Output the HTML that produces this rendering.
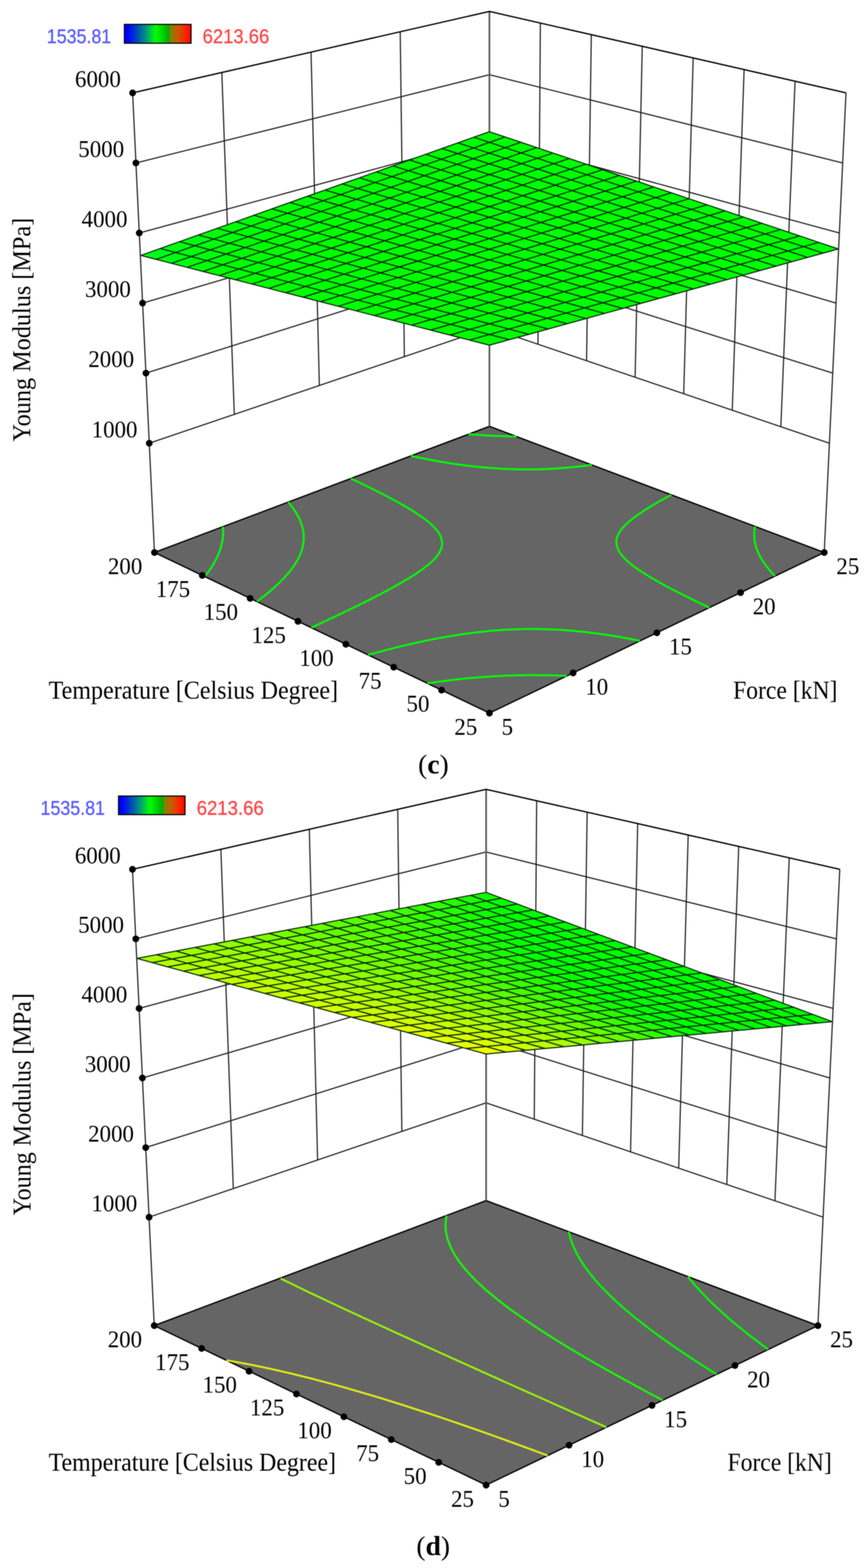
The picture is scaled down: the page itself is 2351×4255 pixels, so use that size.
<!DOCTYPE html>
<html lang="en"><head><meta charset="utf-8"><title>Young Modulus response surfaces (c), (d)</title>
<style>
html,body{margin:0;padding:0;background:#fff}
body{width:2351px;height:4255px}
svg{display:block;filter:blur(0.9px)}
text{white-space:pre}
.sans{font-family:"Liberation Sans",sans-serif;font-size:53px;stroke-width:0.8px}
</style></head><body>
<svg width="2351" height="4255" viewBox="0 0 2351 4255" font-family="'Liberation Serif', serif" fill="#000">
<defs><linearGradient id="cb" x1="0" x2="1" y1="0" y2="0"><stop offset="0" stop-color="#0000ff"/><stop offset="0.05" stop-color="#0000ff"/><stop offset="0.22" stop-color="#005aaa"/><stop offset="0.35" stop-color="#00aa6e"/><stop offset="0.47" stop-color="#00ff00"/><stop offset="0.6" stop-color="#00c800"/><stop offset="0.665" stop-color="#00aa00"/><stop offset="0.685" stop-color="#788700"/><stop offset="0.8" stop-color="#c85a00"/><stop offset="0.93" stop-color="#ff1e00"/><stop offset="1" stop-color="#ff0000"/></linearGradient></defs>
<rect width="2351" height="4255" fill="#fff"/>
<g id="plot-c">
<polygon points="419.3,1499.2 1328.7,1157 2237.6,1499.2 1328.7,1935" fill="#656565" stroke="#000" stroke-width="3.6" stroke-linejoin="miter"/>
<path d="M405.2,1202.8L1328.7,889.4 M1328.7,889.4L2251.6,1202.8 M396.2,1012.6L1328.7,717.7 M1328.7,717.7L2260.7,1012.6 M387.1,822.5L1328.7,546 M1328.7,546L2269.7,822.5 M378.1,632.3L1328.7,374.3 M1328.7,374.3L2278.7,632.3 M369,442.2L1328.7,202.7 M1328.7,202.7L2287.7,442.2 M602.2,196.8L636.1,1124.4 M844.4,141.5L867,1046.1 M1086.5,86.2L1097.8,967.7 M1467,62.6L1460.5,934.1 M1605.3,94.1L1592.4,978.9 M1743.6,125.7L1724.2,1023.7 M1881.8,157.3L1856.1,1068.4 M2020.1,188.9L1987.9,1113.2 M2158.4,220.4L2119.8,1158 M360,252L419.3,1499.2 M2296.7,252L2237.6,1499.2" fill="none" stroke="#1c1c1c" stroke-width="3.1"/>
<path d="M1328.7,31L1328.7,1157" fill="none" stroke="#595959" stroke-width="4.6"/>
<polyline points="360,252 1328.7,31 2296.7,252" fill="none" stroke="#000" stroke-width="3.6" stroke-linejoin="round"/>
<path d="M556.1,1564.4C557.9,1562 563.6,1554.7 567.1,1549.7C570.7,1544.7 574.1,1539.6 577.3,1534.3C580.5,1529.1 583.5,1523.7 586.3,1518.3C589.1,1512.8 591.7,1507.2 594,1501.5C596.2,1495.8 598.3,1490 600,1484.1C601.6,1478.2 603,1472.2 604,1466.1C605,1460.1 605.6,1453.9 605.8,1447.8C606.1,1441.7 605.4,1432.5 605.3,1429.4" fill="none" stroke="#00ff0c" stroke-width="5.2"/>
<path d="M697.7,1632.4C701.7,1629.3 713.6,1620.2 721.4,1613.9C729.1,1607.6 736.8,1601.2 744.2,1594.5C751.6,1587.8 758.9,1581 765.8,1573.8C772.8,1566.6 779.6,1559.2 785.8,1551.5C792,1543.7 798.1,1535.6 803.2,1527.1C808.4,1518.6 813.2,1509.6 816.7,1500.4C820.1,1491.1 822.9,1481.2 824,1471.4C825.1,1461.6 824.9,1451.3 823.4,1441.5C821.9,1431.7 818.7,1422 814.9,1412.8C811.2,1403.6 806.1,1394.9 800.7,1386.5C795.3,1378.1 785.7,1366.6 782.7,1362.6" fill="none" stroke="#00ff00" stroke-width="5.2"/>
<path d="M2103.8,1563.2C2101.7,1560.9 2095.2,1554 2091.1,1549.2C2087,1544.5 2083,1539.6 2079.3,1534.5C2075.5,1529.5 2071.9,1524.3 2068.6,1518.9C2065.3,1513.5 2062.2,1508 2059.6,1502.3C2056.9,1496.6 2054.6,1490.7 2052.7,1484.7C2050.9,1478.7 2049.4,1472.5 2048.6,1466.3C2047.7,1460 2047.4,1453.7 2047.6,1447.4C2047.8,1441.1 2049.6,1431.8 2050,1428.7" fill="none" stroke="#00ff00" stroke-width="5.2"/>
<path d="M845.4,1703.2C849.7,1701.2 862.7,1695.1 871.4,1691.1C880,1687 888.7,1683 897.3,1678.9C906,1674.8 914.6,1670.7 923.2,1666.6C931.9,1662.5 940.5,1658.4 949.1,1654.2C957.7,1650 966.3,1645.8 974.8,1641.6C983.4,1637.4 991.9,1633.1 1000.5,1628.8C1009,1624.5 1017.5,1620.2 1026,1615.8C1034.5,1611.4 1042.9,1606.9 1051.4,1602.4C1059.8,1597.9 1068.2,1593.3 1076.5,1588.6C1084.8,1583.9 1093.1,1579.2 1101.3,1574.3C1109.5,1569.4 1117.7,1564.4 1125.7,1559.2C1133.7,1553.9 1141.6,1548.6 1149.3,1542.9C1156.9,1537.1 1164.6,1531.3 1171.4,1524.7C1178.3,1518.1 1185.5,1511.3 1190.4,1503.3C1195.2,1495.3 1199.9,1485.7 1200.3,1476.8C1200.8,1467.8 1197.4,1457.7 1193.2,1449.4C1189,1441.2 1181.9,1434 1175.2,1427.2C1168.6,1420.5 1160.9,1414.6 1153.3,1408.8C1145.8,1403 1137.8,1397.6 1129.8,1392.4C1121.8,1387.2 1113.6,1382.2 1105.4,1377.3C1097.2,1372.4 1088.9,1367.7 1080.5,1363.1C1072.2,1358.5 1063.8,1353.9 1055.3,1349.5C1046.9,1345 1038.4,1340.6 1029.9,1336.3C1021.3,1332 1012.8,1327.7 1004.2,1323.5C995.7,1319.2 987.1,1315 978.5,1310.9C969.9,1306.7 956.9,1300.6 952.6,1298.5" fill="none" stroke="#00ff00" stroke-width="5.2"/>
<path d="M1925.3,1648.8C1920.9,1646.7 1907.9,1640.5 1899.2,1636.3C1890.5,1632.1 1881.8,1627.9 1873.2,1623.7C1864.5,1619.4 1855.9,1615.1 1847.3,1610.7C1838.7,1606.4 1830.1,1602 1821.5,1597.5C1813,1593 1804.5,1588.5 1796,1583.8C1787.6,1579.2 1779.2,1574.4 1770.9,1569.5C1762.6,1564.6 1754.3,1559.7 1746.2,1554.4C1738.1,1549.2 1730,1543.9 1722.3,1538.1C1714.6,1532.3 1706.8,1526.4 1700,1519.6C1693.2,1512.9 1685.9,1505.8 1681.4,1497.6C1676.9,1489.4 1672.9,1479.4 1673.1,1470.3C1673.2,1461.3 1677.6,1451.4 1682.2,1443.3C1686.9,1435.1 1694.2,1428.1 1701.1,1421.4C1707.9,1414.7 1715.7,1408.8 1723.4,1403C1731,1397.1 1739.1,1391.8 1747.1,1386.5C1755.2,1381.2 1763.4,1376.1 1771.7,1371.2C1780,1366.2 1788.3,1361.4 1796.8,1356.7C1805.2,1352 1817.9,1345.1 1822.1,1342.8" fill="none" stroke="#00ff00" stroke-width="5.2"/>
<path d="M999.5,1777.1C1004.1,1775.8 1017.9,1772 1027.2,1769.5C1036.4,1767 1045.7,1764.6 1055,1762.2C1064.3,1759.8 1073.5,1757.5 1082.8,1755.2C1092.1,1753 1101.5,1750.8 1110.8,1748.6C1120.1,1746.5 1129.5,1744.4 1138.8,1742.3C1148.2,1740.3 1157.6,1738.3 1166.9,1736.5C1176.3,1734.6 1185.7,1732.8 1195.2,1731C1204.6,1729.3 1214,1727.6 1223.4,1726C1232.9,1724.5 1242.3,1723 1251.8,1721.6C1261.3,1720.2 1270.8,1718.8 1280.3,1717.6C1289.8,1716.4 1299.3,1715.3 1308.8,1714.3C1318.3,1713.2 1327.8,1712.3 1337.4,1711.5C1346.9,1710.7 1356.5,1710 1366,1709.3C1375.6,1708.7 1385.2,1708.2 1394.7,1707.9C1404.3,1707.5 1413.9,1707.2 1423.4,1707C1433,1706.9 1442.6,1706.8 1452.2,1706.9C1461.7,1706.9 1471.3,1707.1 1480.9,1707.4C1490.4,1707.6 1500,1708 1509.6,1708.5C1519.1,1709 1528.7,1709.6 1538.2,1710.4C1547.8,1711.1 1557.3,1711.9 1566.9,1712.8C1576.4,1713.7 1585.9,1714.7 1595.4,1715.9C1604.9,1717 1614.4,1718.2 1623.9,1719.5C1633.4,1720.8 1642.9,1722.2 1652.3,1723.6C1661.8,1725.1 1671.3,1726.7 1680.7,1728.3C1690.1,1729.9 1699.5,1731.7 1708.9,1733.4C1718.4,1735.2 1732.4,1738.1 1737.1,1739" fill="none" stroke="#00ff00" stroke-width="5.2"/>
<path d="M1115.6,1237.1C1120.3,1238.1 1134.5,1241.1 1144,1243.1C1153.5,1245 1163,1246.8 1172.6,1248.6C1182.1,1250.4 1191.6,1252.1 1201.2,1253.7C1210.7,1255.3 1220.3,1256.8 1229.9,1258.3C1239.5,1259.7 1249.1,1261.1 1258.7,1262.3C1268.3,1263.6 1277.9,1264.8 1287.5,1265.8C1297.2,1266.9 1306.8,1267.9 1316.5,1268.7C1326.1,1269.6 1335.8,1270.4 1345.5,1271C1355.1,1271.7 1364.8,1272.2 1374.5,1272.7C1384.2,1273.1 1393.9,1273.4 1403.5,1273.6C1413.2,1273.8 1422.9,1273.9 1432.6,1273.9C1442.3,1273.9 1452,1273.8 1461.7,1273.5C1471.4,1273.3 1481.1,1272.9 1490.7,1272.4C1500.4,1271.9 1510.1,1271.3 1519.7,1270.6C1529.4,1269.9 1539.1,1269.1 1548.7,1268.2C1558.4,1267.3 1568,1266.3 1577.6,1265.2C1587.3,1264.1 1601.7,1262.1 1606.5,1261.5" fill="none" stroke="#00ff00" stroke-width="5.2"/>
<path d="M1160.4,1854.2C1165.2,1853.5 1179.7,1851.4 1189.3,1850.1C1198.9,1848.8 1208.6,1847.6 1218.2,1846.4C1227.9,1845.2 1237.5,1844.1 1247.2,1843.1C1256.9,1842 1266.6,1841 1276.3,1840.1C1285.9,1839.2 1295.6,1838.4 1305.3,1837.7C1315,1836.9 1324.7,1836.2 1334.4,1835.6C1344.1,1835 1353.9,1834.5 1363.6,1834C1373.3,1833.6 1383,1833.2 1392.7,1832.9C1402.4,1832.6 1412.2,1832.4 1421.9,1832.3C1431.6,1832.1 1441.3,1832 1451.1,1832.1C1460.8,1832.1 1470.5,1832.2 1480.2,1832.3C1490,1832.5 1499.7,1832.7 1509.4,1833C1519.1,1833.4 1533.7,1834 1538.6,1834.2" fill="none" stroke="#00ff00" stroke-width="5.2"/>
<path d="M1272,1178.2C1274.7,1178.4 1282.8,1179 1288.2,1179.4C1293.6,1179.8 1299,1180.2 1304.4,1180.6C1309.9,1180.9 1315.3,1181.3 1320.7,1181.6C1326.1,1181.9 1331.5,1182.2 1337,1182.4C1342.4,1182.7 1347.8,1182.9 1353.2,1183.2C1358.7,1183.4 1364.1,1183.6 1369.5,1183.7C1374.9,1183.9 1380.4,1184.1 1385.8,1184.2C1391.2,1184.3 1399.4,1184.4 1402.1,1184.5" fill="none" stroke="#00ff00" stroke-width="5.2"/>
<g stroke="#0b2b0b" stroke-width="3.0" stroke-linejoin="round">
<path d="M1286.2,372.4L1328.6,357.4L1371.1,371.6L1328.6,386.5Z" fill="#00ff00"/>
<path d="M1243.3,387.7L1286.2,372.4L1328.6,386.5L1285.7,401.6Z" fill="#00ff00"/>
<path d="M1328.6,386.5L1371.1,371.6L1414,386L1371.5,400.8Z" fill="#00ff00"/>
<path d="M1199.9,403L1243.3,387.7L1285.7,401.6L1242.3,416.8Z" fill="#00ff00"/>
<path d="M1285.7,401.6L1328.6,386.5L1371.5,400.8L1328.6,415.6Z" fill="#00ff00"/>
<path d="M1371.5,400.8L1414,386L1457.4,400.6L1414.9,415.1Z" fill="#00ff00"/>
<path d="M1156.1,418.6L1199.9,403L1242.3,416.8L1198.5,432.2Z" fill="#00ff00"/>
<path d="M1242.3,416.8L1285.7,401.6L1328.6,415.6L1285.2,430.7Z" fill="#00ff00"/>
<path d="M1328.6,415.6L1371.5,400.8L1414.9,415.1L1372,429.8Z" fill="#00ff00"/>
<path d="M1414.9,415.1L1457.4,400.6L1501.2,415.4L1458.8,429.7Z" fill="#00ff00"/>
<path d="M1111.7,434.3L1156.1,418.6L1198.5,432.2L1154.1,447.7Z" fill="#00ff00"/>
<path d="M1198.5,432.2L1242.3,416.8L1285.2,430.7L1241.4,445.9Z" fill="#00ff00"/>
<path d="M1285.2,430.7L1328.6,415.6L1372,429.8L1328.6,444.7Z" fill="#00ff00"/>
<path d="M1372,429.8L1414.9,415.1L1458.8,429.7L1415.9,444.2Z" fill="#00ff00"/>
<path d="M1458.8,429.7L1501.2,415.4L1545.6,430.2L1503.2,444.4Z" fill="#00ff00"/>
<path d="M1066.9,450.2L1111.7,434.3L1154.1,447.7L1109.3,463.4Z" fill="#00ff00"/>
<path d="M1154.1,447.7L1198.5,432.2L1241.4,445.9L1197,461.2Z" fill="#00ff00"/>
<path d="M1241.4,445.9L1285.2,430.7L1328.6,444.7L1284.7,459.7Z" fill="#00ff00"/>
<path d="M1328.6,444.7L1372,429.8L1415.9,444.2L1372.5,458.9Z" fill="#00ff00"/>
<path d="M1415.9,444.2L1458.8,429.7L1503.2,444.4L1460.3,458.8Z" fill="#00ff00"/>
<path d="M1503.2,444.4L1545.6,430.2L1590.4,445.3L1548,459.3Z" fill="#00ff00"/>
<path d="M1021.6,466.3L1066.9,450.2L1109.3,463.4L1063.9,479.3Z" fill="#00ff00"/>
<path d="M1109.3,463.4L1154.1,447.7L1197,461.2L1152.1,476.8Z" fill="#00ff00"/>
<path d="M1197,461.2L1241.4,445.9L1284.7,459.7L1240.4,474.9Z" fill="#00ff00"/>
<path d="M1284.7,459.7L1328.6,444.7L1372.5,458.9L1328.6,473.7Z" fill="#00ff00"/>
<path d="M1372.5,458.9L1415.9,444.2L1460.3,458.8L1416.9,473.3Z" fill="#00ff00"/>
<path d="M1460.3,458.8L1503.2,444.4L1548,459.3L1505.2,473.5Z" fill="#00ff00"/>
<path d="M1548,459.3L1590.4,445.3L1635.8,460.5L1593.4,474.4Z" fill="#00ff00"/>
<path d="M975.7,482.6L1021.6,466.3L1063.9,479.3L1018,495.4Z" fill="#00ff00"/>
<path d="M1063.9,479.3L1109.3,463.4L1152.1,476.8L1106.7,492.5Z" fill="#00ff00"/>
<path d="M1152.1,476.8L1197,461.2L1240.4,474.9L1195.5,490.3Z" fill="#00ff00"/>
<path d="M1240.4,474.9L1284.7,459.7L1328.6,473.7L1284.2,488.8Z" fill="#00ff00"/>
<path d="M1328.6,473.7L1372.5,458.9L1416.9,473.3L1373,487.9Z" fill="#00ff00"/>
<path d="M1416.9,473.3L1460.3,458.8L1505.2,473.5L1461.8,487.8Z" fill="#00ff00"/>
<path d="M1505.2,473.5L1548,459.3L1593.4,474.4L1550.6,488.3Z" fill="#00ff00"/>
<path d="M1593.4,474.4L1635.8,460.5L1681.7,476L1639.3,489.6Z" fill="#00ff00"/>
<path d="M929.3,499L975.7,482.6L1018,495.4L971.6,511.7Z" fill="#00ff00"/>
<path d="M1018,495.4L1063.9,479.3L1106.7,492.5L1060.8,508.4Z" fill="#00ff00"/>
<path d="M1106.7,492.5L1152.1,476.8L1195.5,490.3L1150.1,505.8Z" fill="#00ff00"/>
<path d="M1195.5,490.3L1240.4,474.9L1284.2,488.8L1239.3,504Z" fill="#00ff00"/>
<path d="M1284.2,488.8L1328.6,473.7L1373,487.9L1328.6,502.8Z" fill="#00ff00"/>
<path d="M1373,487.9L1416.9,473.3L1461.8,487.8L1417.9,502.3Z" fill="#00ff00"/>
<path d="M1461.8,487.8L1505.2,473.5L1550.6,488.3L1507.2,502.5Z" fill="#00ff00"/>
<path d="M1550.6,488.3L1593.4,474.4L1639.3,489.6L1596.5,503.4Z" fill="#00ff00"/>
<path d="M1639.3,489.6L1681.7,476L1728.1,491.5L1685.8,505Z" fill="#00ff00"/>
<path d="M882.4,515.7L929.3,499L971.6,511.7L924.7,528.2Z" fill="#00ff00"/>
<path d="M971.6,511.7L1018,495.4L1060.8,508.4L1014.4,524.5Z" fill="#00ff00"/>
<path d="M1060.8,508.4L1106.7,492.5L1150.1,505.8L1104.1,521.6Z" fill="#00ff00"/>
<path d="M1150.1,505.8L1195.5,490.3L1239.3,504L1193.9,519.3Z" fill="#00ff00"/>
<path d="M1239.3,504L1284.2,488.8L1328.6,502.8L1283.7,517.8Z" fill="#00ff00"/>
<path d="M1328.6,502.8L1373,487.9L1417.9,502.3L1373.5,516.9Z" fill="#00ff00"/>
<path d="M1417.9,502.3L1461.8,487.8L1507.2,502.5L1463.4,516.8Z" fill="#00ff00"/>
<path d="M1507.2,502.5L1550.6,488.3L1596.5,503.4L1553.2,517.4Z" fill="#00ff00"/>
<path d="M1596.5,503.4L1639.3,489.6L1685.8,505L1643,518.6Z" fill="#00ff00"/>
<path d="M1685.8,505L1728.1,491.5L1775,507.3L1732.7,520.6Z" fill="#00ff00"/>
<path d="M835,532.5L882.4,515.7L924.7,528.2L877.2,544.8Z" fill="#00ff00"/>
<path d="M924.7,528.2L971.6,511.7L1014.4,524.5L967.4,540.8Z" fill="#00ff00"/>
<path d="M1014.4,524.5L1060.8,508.4L1104.1,521.6L1057.7,537.5Z" fill="#00ff00"/>
<path d="M1104.1,521.6L1150.1,505.8L1193.9,519.3L1148,534.9Z" fill="#00ff00"/>
<path d="M1193.9,519.3L1239.3,504L1283.7,517.8L1238.3,533Z" fill="#00ff00"/>
<path d="M1283.7,517.8L1328.6,502.8L1373.5,516.9L1328.6,531.8Z" fill="#00ff00"/>
<path d="M1373.5,516.9L1417.9,502.3L1463.4,516.8L1419,531.3Z" fill="#00ff00"/>
<path d="M1463.4,516.8L1507.2,502.5L1553.2,517.4L1509.3,531.5Z" fill="#00ff00"/>
<path d="M1553.2,517.4L1596.5,503.4L1643,518.6L1599.7,532.4Z" fill="#00ff00"/>
<path d="M1643,518.6L1685.8,505L1732.7,520.6L1690,534Z" fill="#00ff00"/>
<path d="M1732.7,520.6L1775,507.3L1822.5,523.2L1780.3,536.3Z" fill="#00ff00"/>
<path d="M787,549.5L835,532.5L877.2,544.8L829.2,561.6Z" fill="#00ff00"/>
<path d="M877.2,544.8L924.7,528.2L967.4,540.8L919.9,557.3Z" fill="#00ff00"/>
<path d="M967.4,540.8L1014.4,524.5L1057.7,537.5L1010.7,553.6Z" fill="#00ff00"/>
<path d="M1057.7,537.5L1104.1,521.6L1148,534.9L1101.5,550.6Z" fill="#00ff00"/>
<path d="M1148,534.9L1193.9,519.3L1238.3,533L1192.3,548.3Z" fill="#00ff00"/>
<path d="M1238.3,533L1283.7,517.8L1328.6,531.8L1283.2,546.8Z" fill="#00ff00"/>
<path d="M1328.6,531.8L1373.5,516.9L1419,531.3L1374.1,545.9Z" fill="#00ff00"/>
<path d="M1419,531.3L1463.4,516.8L1509.3,531.5L1465,545.8Z" fill="#00ff00"/>
<path d="M1509.3,531.5L1553.2,517.4L1599.7,532.4L1555.8,546.3Z" fill="#00ff00"/>
<path d="M1599.7,532.4L1643,518.6L1690,534L1646.7,547.6Z" fill="#00ff00"/>
<path d="M1690,534L1732.7,520.6L1780.3,536.3L1737.5,549.6Z" fill="#00ff00"/>
<path d="M1780.3,536.3L1822.5,523.2L1870.5,539.4L1828.3,552.3Z" fill="#00ff00"/>
<path d="M738.5,566.7L787,549.5L829.2,561.6L780.6,578.7Z" fill="#00ff00"/>
<path d="M829.2,561.6L877.2,544.8L919.9,557.3L871.8,573.9Z" fill="#00ff00"/>
<path d="M919.9,557.3L967.4,540.8L1010.7,553.6L963.1,569.9Z" fill="#00ff00"/>
<path d="M1010.7,553.6L1057.7,537.5L1101.5,550.6L1054.4,566.5Z" fill="#00ff00"/>
<path d="M1101.5,550.6L1148,534.9L1192.3,548.3L1145.8,563.9Z" fill="#00ff00"/>
<path d="M1192.3,548.3L1238.3,533L1283.2,546.8L1237.2,562Z" fill="#00ff00"/>
<path d="M1283.2,546.8L1328.6,531.8L1374.1,545.9L1328.6,560.7Z" fill="#00ff00"/>
<path d="M1374.1,545.9L1419,531.3L1465,545.8L1420.1,560.2Z" fill="#00ff00"/>
<path d="M1465,545.8L1509.3,531.5L1555.8,546.3L1511.5,560.5Z" fill="#00ff00"/>
<path d="M1555.8,546.3L1599.7,532.4L1646.7,547.6L1602.9,561.4Z" fill="#00ff00"/>
<path d="M1646.7,547.6L1690,534L1737.5,549.6L1694.3,563Z" fill="#00ff00"/>
<path d="M1737.5,549.6L1780.3,536.3L1828.3,552.3L1785.7,565.4Z" fill="#00ff00"/>
<path d="M1828.3,552.3L1870.5,539.4L1919.1,555.7L1877,568.4Z" fill="#00ff00"/>
<path d="M689.4,584.2L738.5,566.7L780.6,578.7L731.4,595.9Z" fill="#00ff00"/>
<path d="M780.6,578.7L829.2,561.6L871.8,573.9L823.1,590.8Z" fill="#00ff00"/>
<path d="M871.8,573.9L919.9,557.3L963.1,569.9L915,586.3Z" fill="#00ff00"/>
<path d="M963.1,569.9L1010.7,553.6L1054.4,566.5L1006.8,582.6Z" fill="#00ff00"/>
<path d="M1054.4,566.5L1101.5,550.6L1145.8,563.9L1098.7,579.6Z" fill="#00ff00"/>
<path d="M1145.8,563.9L1192.3,548.3L1237.2,562L1190.7,577.3Z" fill="#00ff00"/>
<path d="M1237.2,562L1283.2,546.8L1328.6,560.7L1282.6,575.7Z" fill="#00ff00"/>
<path d="M1328.6,560.7L1374.1,545.9L1420.1,560.2L1374.6,574.9Z" fill="#00ff00"/>
<path d="M1420.1,560.2L1465,545.8L1511.5,560.5L1466.6,574.7Z" fill="#00ff00"/>
<path d="M1511.5,560.5L1555.8,546.3L1602.9,561.4L1558.6,575.3Z" fill="#00ff00"/>
<path d="M1602.9,561.4L1646.7,547.6L1694.3,563L1650.5,576.6Z" fill="#00ff00"/>
<path d="M1694.3,563L1737.5,549.6L1785.7,565.4L1742.5,578.6Z" fill="#00ff00"/>
<path d="M1785.7,565.4L1828.3,552.3L1877,568.4L1834.4,581.3Z" fill="#00ff00"/>
<path d="M1877,568.4L1919.1,555.7L1968.2,572.2L1926.2,584.8Z" fill="#00ff00"/>
<path d="M639.7,601.8L689.4,584.2L731.4,595.9L681.6,613.4Z" fill="#00ff03"/>
<path d="M731.4,595.9L780.6,578.7L823.1,590.8L773.9,607.8Z" fill="#00ff00"/>
<path d="M823.1,590.8L871.8,573.9L915,586.3L866.3,603Z" fill="#00ff00"/>
<path d="M915,586.3L963.1,569.9L1006.8,582.6L958.7,598.9Z" fill="#00ff00"/>
<path d="M1006.8,582.6L1054.4,566.5L1098.7,579.6L1051.1,595.5Z" fill="#00ff00"/>
<path d="M1098.7,579.6L1145.8,563.9L1190.7,577.3L1143.6,592.9Z" fill="#00ff00"/>
<path d="M1190.7,577.3L1237.2,562L1282.6,575.7L1236.1,590.9Z" fill="#00ff00"/>
<path d="M1282.6,575.7L1328.6,560.7L1374.6,574.9L1328.6,589.7Z" fill="#00ff00"/>
<path d="M1374.6,574.9L1420.1,560.2L1466.6,574.7L1421.2,589.2Z" fill="#00ff00"/>
<path d="M1466.6,574.7L1511.5,560.5L1558.6,575.3L1513.7,589.4Z" fill="#00ff00"/>
<path d="M1558.6,575.3L1602.9,561.4L1650.5,576.6L1606.2,590.3Z" fill="#00ff00"/>
<path d="M1650.5,576.6L1694.3,563L1742.5,578.6L1698.7,592Z" fill="#00ff00"/>
<path d="M1742.5,578.6L1785.7,565.4L1834.4,581.3L1791.2,594.4Z" fill="#00ff00"/>
<path d="M1834.4,581.3L1877,568.4L1926.2,584.8L1883.6,597.5Z" fill="#00ff00"/>
<path d="M1926.2,584.8L1968.2,572.2L2018,588.9L1976,601.3Z" fill="#00ff00"/>
<path d="M589.4,619.6L639.7,601.8L681.6,613.4L631.3,631Z" fill="#00ff07"/>
<path d="M681.6,613.4L731.4,595.9L773.9,607.8L724.1,625.1Z" fill="#00ff00"/>
<path d="M773.9,607.8L823.1,590.8L866.3,603L817,619.9Z" fill="#00ff00"/>
<path d="M866.3,603L915,586.3L958.7,598.9L909.9,615.4Z" fill="#00ff00"/>
<path d="M958.7,598.9L1006.8,582.6L1051.1,595.5L1002.9,611.6Z" fill="#00ff00"/>
<path d="M1051.1,595.5L1098.7,579.6L1143.6,592.9L1095.9,608.6Z" fill="#00ff00"/>
<path d="M1143.6,592.9L1190.7,577.3L1236.1,590.9L1189,606.3Z" fill="#00ff00"/>
<path d="M1236.1,590.9L1282.6,575.7L1328.6,589.7L1282.1,604.7Z" fill="#00ff00"/>
<path d="M1328.6,589.7L1374.6,574.9L1421.2,589.2L1375.2,603.8Z" fill="#00ff00"/>
<path d="M1421.2,589.2L1466.6,574.7L1513.7,589.4L1468.3,603.7Z" fill="#00ff00"/>
<path d="M1513.7,589.4L1558.6,575.3L1606.2,590.3L1561.4,604.3Z" fill="#00ff00"/>
<path d="M1606.2,590.3L1650.5,576.6L1698.7,592L1654.5,605.6Z" fill="#00ff00"/>
<path d="M1698.7,592L1742.5,578.6L1791.2,594.4L1747.5,607.6Z" fill="#00ff00"/>
<path d="M1791.2,594.4L1834.4,581.3L1883.6,597.5L1840.5,610.3Z" fill="#00ff00"/>
<path d="M1883.6,597.5L1926.2,584.8L1976,601.3L1933.5,613.8Z" fill="#00ff00"/>
<path d="M1976,601.3L2018,588.9L2068.3,605.8L2026.4,618Z" fill="#00ff00"/>
<path d="M538.6,637.7L589.4,619.6L631.3,631L580.3,648.9Z" fill="#00ff0b"/>
<path d="M631.3,631L681.6,613.4L724.1,625.1L673.7,642.6Z" fill="#00ff04"/>
<path d="M724.1,625.1L773.9,607.8L817,619.9L767.1,637Z" fill="#00ff00"/>
<path d="M817,619.9L866.3,603L909.9,615.4L860.6,632.1Z" fill="#00ff00"/>
<path d="M909.9,615.4L958.7,598.9L1002.9,611.6L954.1,628Z" fill="#00ff00"/>
<path d="M1002.9,611.6L1051.1,595.5L1095.9,608.6L1047.7,624.5Z" fill="#00ff00"/>
<path d="M1095.9,608.6L1143.6,592.9L1189,606.3L1141.3,621.8Z" fill="#00ff00"/>
<path d="M1189,606.3L1236.1,590.9L1282.1,604.7L1235,619.9Z" fill="#00ff00"/>
<path d="M1282.1,604.7L1328.6,589.7L1375.2,603.8L1328.6,618.6Z" fill="#00ff00"/>
<path d="M1375.2,603.8L1421.2,589.2L1468.3,603.7L1422.3,618.1Z" fill="#00ff00"/>
<path d="M1468.3,603.7L1513.7,589.4L1561.4,604.3L1516,618.3Z" fill="#00ff00"/>
<path d="M1561.4,604.3L1606.2,590.3L1654.5,605.6L1609.6,619.3Z" fill="#00ff00"/>
<path d="M1654.5,605.6L1698.7,592L1747.5,607.6L1703.3,621Z" fill="#00ff00"/>
<path d="M1747.5,607.6L1791.2,594.4L1840.5,610.3L1796.9,623.4Z" fill="#00ff00"/>
<path d="M1840.5,610.3L1883.6,597.5L1933.5,613.8L1890.5,626.5Z" fill="#00ff00"/>
<path d="M1933.5,613.8L1976,601.3L2026.4,618L1984,630.4Z" fill="#00ff00"/>
<path d="M2026.4,618L2068.3,605.8L2119.3,622.9L2077.4,634.9Z" fill="#00ff00"/>
<path d="M487.1,655.9L538.6,637.7L580.3,648.9L528.8,667Z" fill="#00ff0f"/>
<path d="M580.3,648.9L631.3,631L673.7,642.6L622.6,660.3Z" fill="#00ff08"/>
<path d="M673.7,642.6L724.1,625.1L767.1,637L716.6,654.3Z" fill="#00ff01"/>
<path d="M767.1,637L817,619.9L860.6,632.1L810.6,649Z" fill="#00ff00"/>
<path d="M860.6,632.1L909.9,615.4L954.1,628L904.7,644.5Z" fill="#00ff00"/>
<path d="M954.1,628L1002.9,611.6L1047.7,624.5L998.9,640.7Z" fill="#00ff00"/>
<path d="M1047.7,624.5L1095.9,608.6L1141.3,621.8L1093,637.6Z" fill="#00ff00"/>
<path d="M1141.3,621.8L1189,606.3L1235,619.9L1187.3,635.2Z" fill="#00ff00"/>
<path d="M1235,619.9L1282.1,604.7L1328.6,618.6L1281.5,633.6Z" fill="#00ff00"/>
<path d="M1328.6,618.6L1375.2,603.8L1422.3,618.1L1375.8,632.8Z" fill="#00ff00"/>
<path d="M1422.3,618.1L1468.3,603.7L1516,618.3L1470,632.6Z" fill="#00ff00"/>
<path d="M1516,618.3L1561.4,604.3L1609.6,619.3L1564.3,633.2Z" fill="#00ff00"/>
<path d="M1609.6,619.3L1654.5,605.6L1703.3,621L1658.5,634.5Z" fill="#00ff00"/>
<path d="M1703.3,621L1747.5,607.6L1796.9,623.4L1752.7,636.6Z" fill="#00ff00"/>
<path d="M1796.9,623.4L1840.5,610.3L1890.5,626.5L1846.9,639.3Z" fill="#00ff00"/>
<path d="M1890.5,626.5L1933.5,613.8L1984,630.4L1941,642.9Z" fill="#00ff00"/>
<path d="M1984,630.4L2026.4,618L2077.4,634.9L2035.1,647.1Z" fill="#00ff00"/>
<path d="M2077.4,634.9L2119.3,622.9L2170.8,640.2L2129.1,652.1Z" fill="#00ff00"/>
<path d="M435,674.4L487.1,655.9L528.8,667L476.6,685.3Z" fill="#00ff14"/>
<path d="M528.8,667L580.3,648.9L622.6,660.3L571,678.2Z" fill="#00ff0b"/>
<path d="M622.6,660.3L673.7,642.6L716.6,654.3L665.5,671.8Z" fill="#00ff04"/>
<path d="M716.6,654.3L767.1,637L810.6,649L760.1,666.1Z" fill="#00ff00"/>
<path d="M810.6,649L860.6,632.1L904.7,644.5L854.7,661.2Z" fill="#00ff00"/>
<path d="M904.7,644.5L954.1,628L998.9,640.7L949.4,657Z" fill="#00ff00"/>
<path d="M998.9,640.7L1047.7,624.5L1093,637.6L1044.2,653.5Z" fill="#00ff00"/>
<path d="M1093,637.6L1141.3,621.8L1187.3,635.2L1139,650.8Z" fill="#00ff00"/>
<path d="M1187.3,635.2L1235,619.9L1281.5,633.6L1233.8,648.8Z" fill="#00ff00"/>
<path d="M1281.5,633.6L1328.6,618.6L1375.8,632.8L1328.6,647.6Z" fill="#00ff00"/>
<path d="M1375.8,632.8L1422.3,618.1L1470,632.6L1423.5,647.1Z" fill="#00ff00"/>
<path d="M1470,632.6L1516,618.3L1564.3,633.2L1518.3,647.3Z" fill="#00ff00"/>
<path d="M1564.3,633.2L1609.6,619.3L1658.5,634.5L1613.2,648.2Z" fill="#00ff00"/>
<path d="M1658.5,634.5L1703.3,621L1752.7,636.6L1708,649.9Z" fill="#00ff00"/>
<path d="M1752.7,636.6L1796.9,623.4L1846.9,639.3L1802.8,652.4Z" fill="#00ff00"/>
<path d="M1846.9,639.3L1890.5,626.5L1941,642.9L1897.5,655.5Z" fill="#00ff00"/>
<path d="M1941,642.9L1984,630.4L2035.1,647.1L1992.2,659.4Z" fill="#00ff00"/>
<path d="M2035.1,647.1L2077.4,634.9L2129.1,652.1L2086.8,664Z" fill="#00ff00"/>
<path d="M2129.1,652.1L2170.8,640.2L2223,657.8L2181.3,669.4Z" fill="#00ff01"/>
<path d="M382.3,693.1L435,674.4L476.6,685.3L423.8,703.8Z" fill="#00ff18"/>
<path d="M476.6,685.3L528.8,667L571,678.2L518.7,696.3Z" fill="#00ff0f"/>
<path d="M571,678.2L622.6,660.3L665.5,671.8L613.8,689.5Z" fill="#00ff08"/>
<path d="M665.5,671.8L716.6,654.3L760.1,666.1L708.9,683.4Z" fill="#00ff01"/>
<path d="M760.1,666.1L810.6,649L854.7,661.2L804.1,678.1Z" fill="#00ff00"/>
<path d="M854.7,661.2L904.7,644.5L949.4,657L899.4,673.5Z" fill="#00ff00"/>
<path d="M949.4,657L998.9,640.7L1044.2,653.5L994.7,669.7Z" fill="#00ff00"/>
<path d="M1044.2,653.5L1093,637.6L1139,650.8L1090.1,666.6Z" fill="#00ff00"/>
<path d="M1139,650.8L1187.3,635.2L1233.8,648.8L1185.5,664.2Z" fill="#00ff00"/>
<path d="M1233.8,648.8L1281.5,633.6L1328.6,647.6L1280.9,662.6Z" fill="#00ff00"/>
<path d="M1328.6,647.6L1375.8,632.8L1423.5,647.1L1376.4,661.7Z" fill="#00ff00"/>
<path d="M1423.5,647.1L1470,632.6L1518.3,647.3L1471.8,661.5Z" fill="#00ff00"/>
<path d="M1518.3,647.3L1564.3,633.2L1613.2,648.2L1567.2,662.1Z" fill="#00ff00"/>
<path d="M1613.2,648.2L1658.5,634.5L1708,649.9L1662.7,663.5Z" fill="#00ff00"/>
<path d="M1708,649.9L1752.7,636.6L1802.8,652.4L1758.1,665.5Z" fill="#00ff00"/>
<path d="M1802.8,652.4L1846.9,639.3L1897.5,655.5L1853.4,668.3Z" fill="#00ff00"/>
<path d="M1897.5,655.5L1941,642.9L1992.2,659.4L1948.7,671.9Z" fill="#00ff00"/>
<path d="M1992.2,659.4L2035.1,647.1L2086.8,664L2044,676.2Z" fill="#00ff00"/>
<path d="M2086.8,664L2129.1,652.1L2181.3,669.4L2139.2,681.2Z" fill="#00ff00"/>
<path d="M2181.3,669.4L2223,657.8L2275.8,675.5L2234.3,687Z" fill="#00ff05"/>
<path d="M423.8,703.8L476.6,685.3L518.7,696.3L465.8,714.6Z" fill="#00ff13"/>
<path d="M518.7,696.3L571,678.2L613.8,689.5L561.4,707.4Z" fill="#00ff0b"/>
<path d="M613.8,689.5L665.5,671.8L708.9,683.4L657.1,701Z" fill="#00ff04"/>
<path d="M708.9,683.4L760.1,666.1L804.1,678.1L752.8,695.2Z" fill="#00ff00"/>
<path d="M804.1,678.1L854.7,661.2L899.4,673.5L848.7,690.2Z" fill="#00ff00"/>
<path d="M899.4,673.5L949.4,657L994.7,669.7L944.6,686Z" fill="#00ff00"/>
<path d="M994.7,669.7L1044.2,653.5L1090.1,666.6L1040.6,682.5Z" fill="#00ff00"/>
<path d="M1090.1,666.6L1139,650.8L1185.5,664.2L1136.6,679.8Z" fill="#00ff00"/>
<path d="M1185.5,664.2L1233.8,648.8L1280.9,662.6L1232.6,677.7Z" fill="#00ff00"/>
<path d="M1280.9,662.6L1328.6,647.6L1376.4,661.7L1328.6,676.5Z" fill="#00ff00"/>
<path d="M1376.4,661.7L1423.5,647.1L1471.8,661.5L1424.7,676Z" fill="#00ff00"/>
<path d="M1471.8,661.5L1518.3,647.3L1567.2,662.1L1520.7,676.2Z" fill="#00ff00"/>
<path d="M1567.2,662.1L1613.2,648.2L1662.7,663.5L1616.8,677.2Z" fill="#00ff00"/>
<path d="M1662.7,663.5L1708,649.9L1758.1,665.5L1712.8,678.9Z" fill="#00ff00"/>
<path d="M1758.1,665.5L1802.8,652.4L1853.4,668.3L1808.8,681.3Z" fill="#00ff00"/>
<path d="M1853.4,668.3L1897.5,655.5L1948.7,671.9L1904.7,684.5Z" fill="#00ff00"/>
<path d="M1948.7,671.9L1992.2,659.4L2044,676.2L2000.6,688.5Z" fill="#00ff00"/>
<path d="M2044,676.2L2086.8,664L2139.2,681.2L2096.4,693.1Z" fill="#00ff00"/>
<path d="M2139.2,681.2L2181.3,669.4L2234.3,687L2192.2,698.6Z" fill="#00ff01"/>
<path d="M465.8,714.6L518.7,696.3L561.4,707.4L508.3,725.6Z" fill="#00ff0e"/>
<path d="M561.4,707.4L613.8,689.5L657.1,701L604.6,718.7Z" fill="#00ff07"/>
<path d="M657.1,701L708.9,683.4L752.8,695.2L701,712.6Z" fill="#00ff00"/>
<path d="M752.8,695.2L804.1,678.1L848.7,690.2L797.4,707.2Z" fill="#00ff00"/>
<path d="M848.7,690.2L899.4,673.5L944.6,686L893.9,702.6Z" fill="#00ff00"/>
<path d="M944.6,686L994.7,669.7L1040.6,682.5L990.4,698.7Z" fill="#00ff00"/>
<path d="M1040.6,682.5L1090.1,666.6L1136.6,679.8L1087,695.5Z" fill="#00ff00"/>
<path d="M1136.6,679.8L1185.5,664.2L1232.6,677.7L1183.6,693.1Z" fill="#00ff00"/>
<path d="M1232.6,677.7L1280.9,662.6L1328.6,676.5L1280.3,691.5Z" fill="#00ff00"/>
<path d="M1328.6,676.5L1376.4,661.7L1424.7,676L1377,690.6Z" fill="#00ff00"/>
<path d="M1424.7,676L1471.8,661.5L1520.7,676.2L1473.6,690.4Z" fill="#00ff00"/>
<path d="M1520.7,676.2L1567.2,662.1L1616.8,677.2L1570.3,691Z" fill="#00ff00"/>
<path d="M1616.8,677.2L1662.7,663.5L1712.8,678.9L1666.9,692.4Z" fill="#00ff00"/>
<path d="M1712.8,678.9L1758.1,665.5L1808.8,681.3L1763.6,694.5Z" fill="#00ff00"/>
<path d="M1808.8,681.3L1853.4,668.3L1904.7,684.5L1860.1,697.3Z" fill="#00ff00"/>
<path d="M1904.7,684.5L1948.7,671.9L2000.6,688.5L1956.7,700.9Z" fill="#00ff00"/>
<path d="M2000.6,688.5L2044,676.2L2096.4,693.1L2053.1,705.2Z" fill="#00ff00"/>
<path d="M2096.4,693.1L2139.2,681.2L2192.2,698.6L2149.5,710.3Z" fill="#00ff00"/>
<path d="M508.3,725.6L561.4,707.4L604.6,718.7L551.5,736.7Z" fill="#00ff0a"/>
<path d="M604.6,718.7L657.1,701L701,712.6L648.4,730.1Z" fill="#00ff02"/>
<path d="M701,712.6L752.8,695.2L797.4,707.2L745.4,724.4Z" fill="#00ff00"/>
<path d="M797.4,707.2L848.7,690.2L893.9,702.6L842.5,719.3Z" fill="#00ff00"/>
<path d="M893.9,702.6L944.6,686L990.4,698.7L939.6,715Z" fill="#00ff00"/>
<path d="M990.4,698.7L1040.6,682.5L1087,695.5L1036.8,711.5Z" fill="#00ff00"/>
<path d="M1087,695.5L1136.6,679.8L1183.6,693.1L1134.1,708.7Z" fill="#00ff00"/>
<path d="M1183.6,693.1L1232.6,677.7L1280.3,691.5L1231.3,706.7Z" fill="#00ff00"/>
<path d="M1280.3,691.5L1328.6,676.5L1377,690.6L1328.6,705.4Z" fill="#00ff00"/>
<path d="M1377,690.6L1424.7,676L1473.6,690.4L1425.9,704.9Z" fill="#00ff00"/>
<path d="M1473.6,690.4L1520.7,676.2L1570.3,691L1523.2,705.1Z" fill="#00ff00"/>
<path d="M1570.3,691L1616.8,677.2L1666.9,692.4L1620.5,706.1Z" fill="#00ff00"/>
<path d="M1666.9,692.4L1712.8,678.9L1763.6,694.5L1717.8,707.8Z" fill="#00ff00"/>
<path d="M1763.6,694.5L1808.8,681.3L1860.1,697.3L1815,710.3Z" fill="#00ff00"/>
<path d="M1860.1,697.3L1904.7,684.5L1956.7,700.9L1912.2,713.5Z" fill="#00ff00"/>
<path d="M1956.7,700.9L2000.6,688.5L2053.1,705.2L2009.3,717.5Z" fill="#00ff00"/>
<path d="M2053.1,705.2L2096.4,693.1L2149.5,710.3L2106.3,722.2Z" fill="#00ff00"/>
<path d="M551.5,736.7L604.6,718.7L648.4,730.1L595.2,747.9Z" fill="#00ff05"/>
<path d="M648.4,730.1L701,712.6L745.4,724.4L692.8,741.7Z" fill="#00ff00"/>
<path d="M745.4,724.4L797.4,707.2L842.5,719.3L790.5,736.3Z" fill="#00ff00"/>
<path d="M842.5,719.3L893.9,702.6L939.6,715L888.2,731.6Z" fill="#00ff00"/>
<path d="M939.6,715L990.4,698.7L1036.8,711.5L986,727.7Z" fill="#00ff00"/>
<path d="M1036.8,711.5L1087,695.5L1134.1,708.7L1083.9,724.5Z" fill="#00ff00"/>
<path d="M1134.1,708.7L1183.6,693.1L1231.3,706.7L1181.8,722.1Z" fill="#00ff00"/>
<path d="M1231.3,706.7L1280.3,691.5L1328.6,705.4L1279.7,720.4Z" fill="#00ff00"/>
<path d="M1328.6,705.4L1377,690.6L1425.9,704.9L1377.6,719.5Z" fill="#00ff00"/>
<path d="M1425.9,704.9L1473.6,690.4L1523.2,705.1L1475.5,719.3Z" fill="#00ff00"/>
<path d="M1523.2,705.1L1570.3,691L1620.5,706.1L1573.4,719.9Z" fill="#00ff00"/>
<path d="M1620.5,706.1L1666.9,692.4L1717.8,707.8L1671.4,721.3Z" fill="#00ff00"/>
<path d="M1717.8,707.8L1763.6,694.5L1815,710.3L1769.2,723.4Z" fill="#00ff00"/>
<path d="M1815,710.3L1860.1,697.3L1912.2,713.5L1867.1,726.3Z" fill="#00ff00"/>
<path d="M1912.2,713.5L1956.7,700.9L2009.3,717.5L1964.8,729.9Z" fill="#00ff00"/>
<path d="M2009.3,717.5L2053.1,705.2L2106.3,722.2L2062.6,734.3Z" fill="#00ff00"/>
<path d="M595.2,747.9L648.4,730.1L692.8,741.7L639.5,759.3Z" fill="#00ff00"/>
<path d="M692.8,741.7L745.4,724.4L790.5,736.3L737.8,753.5Z" fill="#00ff00"/>
<path d="M790.5,736.3L842.5,719.3L888.2,731.6L836.1,748.4Z" fill="#00ff00"/>
<path d="M888.2,731.6L939.6,715L986,727.7L934.5,744Z" fill="#00ff00"/>
<path d="M986,727.7L1036.8,711.5L1083.9,724.5L1033,740.5Z" fill="#00ff00"/>
<path d="M1083.9,724.5L1134.1,708.7L1181.8,722.1L1131.5,737.6Z" fill="#00ff00"/>
<path d="M1181.8,722.1L1231.3,706.7L1279.7,720.4L1230.1,735.6Z" fill="#00ff00"/>
<path d="M1279.7,720.4L1328.6,705.4L1377.6,719.5L1328.6,734.3Z" fill="#00ff00"/>
<path d="M1377.6,719.5L1425.9,704.9L1475.5,719.3L1427.2,733.8Z" fill="#00ff00"/>
<path d="M1475.5,719.3L1523.2,705.1L1573.4,719.9L1525.8,734Z" fill="#00ff00"/>
<path d="M1573.4,719.9L1620.5,706.1L1671.4,721.3L1624.3,735Z" fill="#00ff00"/>
<path d="M1671.4,721.3L1717.8,707.8L1769.2,723.4L1722.9,736.7Z" fill="#00ff00"/>
<path d="M1769.2,723.4L1815,710.3L1867.1,726.3L1821.4,739.2Z" fill="#00ff00"/>
<path d="M1867.1,726.3L1912.2,713.5L1964.8,729.9L1919.8,742.5Z" fill="#00ff00"/>
<path d="M1964.8,729.9L2009.3,717.5L2062.6,734.3L2018.2,746.6Z" fill="#00ff00"/>
<path d="M639.5,759.3L692.8,741.7L737.8,753.5L684.4,770.9Z" fill="#00ff00"/>
<path d="M737.8,753.5L790.5,736.3L836.1,748.4L783.4,765.4Z" fill="#00ff00"/>
<path d="M836.1,748.4L888.2,731.6L934.5,744L882.4,760.6Z" fill="#00ff00"/>
<path d="M934.5,744L986,727.7L1033,740.5L981.5,756.6Z" fill="#00ff00"/>
<path d="M1033,740.5L1083.9,724.5L1131.5,737.6L1080.6,753.4Z" fill="#00ff00"/>
<path d="M1131.5,737.6L1181.8,722.1L1230.1,735.6L1179.8,751Z" fill="#00ff00"/>
<path d="M1230.1,735.6L1279.7,720.4L1328.6,734.3L1279,749.3Z" fill="#00ff00"/>
<path d="M1328.6,734.3L1377.6,719.5L1427.2,733.8L1378.2,748.4Z" fill="#00ff00"/>
<path d="M1427.2,733.8L1475.5,719.3L1525.8,734L1477.5,748.2Z" fill="#00ff00"/>
<path d="M1525.8,734L1573.4,719.9L1624.3,735L1576.7,748.8Z" fill="#00ff00"/>
<path d="M1624.3,735L1671.4,721.3L1722.9,736.7L1675.9,750.2Z" fill="#00ff00"/>
<path d="M1722.9,736.7L1769.2,723.4L1821.4,739.2L1775.1,752.4Z" fill="#00ff00"/>
<path d="M1821.4,739.2L1867.1,726.3L1919.8,742.5L1874.2,755.3Z" fill="#00ff00"/>
<path d="M1919.8,742.5L1964.8,729.9L2018.2,746.6L1973.3,758.9Z" fill="#00ff00"/>
<path d="M684.4,770.9L737.8,753.5L783.4,765.4L729.9,782.6Z" fill="#00ff00"/>
<path d="M783.4,765.4L836.1,748.4L882.4,760.6L829.6,777.4Z" fill="#00ff00"/>
<path d="M882.4,760.6L934.5,744L981.5,756.6L929.3,773.1Z" fill="#00ff00"/>
<path d="M981.5,756.6L1033,740.5L1080.6,753.4L1029.1,769.4Z" fill="#00ff00"/>
<path d="M1080.6,753.4L1131.5,737.6L1179.8,751L1128.9,766.6Z" fill="#00ff00"/>
<path d="M1179.8,751L1230.1,735.6L1279,749.3L1228.8,764.5Z" fill="#00ff00"/>
<path d="M1279,749.3L1328.6,734.3L1378.2,748.4L1328.6,763.2Z" fill="#00ff00"/>
<path d="M1378.2,748.4L1427.2,733.8L1477.5,748.2L1428.5,762.6Z" fill="#00ff00"/>
<path d="M1477.5,748.2L1525.8,734L1576.7,748.8L1528.4,762.9Z" fill="#00ff00"/>
<path d="M1576.7,748.8L1624.3,735L1675.9,750.2L1628.3,763.9Z" fill="#00ff00"/>
<path d="M1675.9,750.2L1722.9,736.7L1775.1,752.4L1728.1,765.7Z" fill="#00ff00"/>
<path d="M1775.1,752.4L1821.4,739.2L1874.2,755.3L1827.9,768.2Z" fill="#00ff00"/>
<path d="M1874.2,755.3L1919.8,742.5L1973.3,758.9L1927.7,771.5Z" fill="#00ff00"/>
<path d="M729.9,782.6L783.4,765.4L829.6,777.4L776,794.5Z" fill="#00ff00"/>
<path d="M829.6,777.4L882.4,760.6L929.3,773.1L876.4,789.7Z" fill="#00ff00"/>
<path d="M929.3,773.1L981.5,756.6L1029.1,769.4L976.8,785.6Z" fill="#00ff00"/>
<path d="M1029.1,769.4L1080.6,753.4L1128.9,766.6L1077.3,782.4Z" fill="#00ff00"/>
<path d="M1128.9,766.6L1179.8,751L1228.8,764.5L1177.8,779.9Z" fill="#00ff00"/>
<path d="M1228.8,764.5L1279,749.3L1328.6,763.2L1278.4,778.2Z" fill="#00ff00"/>
<path d="M1328.6,763.2L1378.2,748.4L1428.5,762.6L1378.9,777.3Z" fill="#00ff00"/>
<path d="M1428.5,762.6L1477.5,748.2L1528.4,762.9L1479.5,777.1Z" fill="#00ff00"/>
<path d="M1528.4,762.9L1576.7,748.8L1628.3,763.9L1580,777.7Z" fill="#00ff00"/>
<path d="M1628.3,763.9L1675.9,750.2L1728.1,765.7L1680.6,779.1Z" fill="#00ff00"/>
<path d="M1728.1,765.7L1775.1,752.4L1827.9,768.2L1781.1,781.3Z" fill="#00ff00"/>
<path d="M1827.9,768.2L1874.2,755.3L1927.7,771.5L1881.5,784.2Z" fill="#00ff00"/>
<path d="M776,794.5L829.6,777.4L876.4,789.7L822.8,806.5Z" fill="#00ff00"/>
<path d="M876.4,789.7L929.3,773.1L976.8,785.6L923.9,802.1Z" fill="#00ff00"/>
<path d="M976.8,785.6L1029.1,769.4L1077.3,782.4L1025,798.4Z" fill="#00ff00"/>
<path d="M1077.3,782.4L1128.9,766.6L1177.8,779.9L1126.2,795.5Z" fill="#00ff00"/>
<path d="M1177.8,779.9L1228.8,764.5L1278.4,778.2L1227.4,793.4Z" fill="#00ff00"/>
<path d="M1278.4,778.2L1328.6,763.2L1378.9,777.3L1328.6,792.1Z" fill="#00ff00"/>
<path d="M1378.9,777.3L1428.5,762.6L1479.5,777.1L1429.9,791.5Z" fill="#00ff00"/>
<path d="M1479.5,777.1L1528.4,762.9L1580,777.7L1531.1,791.8Z" fill="#00ff00"/>
<path d="M1580,777.7L1628.3,763.9L1680.6,779.1L1632.3,792.8Z" fill="#00ff00"/>
<path d="M1680.6,779.1L1728.1,765.7L1781.1,781.3L1733.5,794.6Z" fill="#00ff00"/>
<path d="M1781.1,781.3L1827.9,768.2L1881.5,784.2L1834.7,797.2Z" fill="#00ff00"/>
<path d="M822.8,806.5L876.4,789.7L923.9,802.1L870.2,818.7Z" fill="#00ff00"/>
<path d="M923.9,802.1L976.8,785.6L1025,798.4L972,814.6Z" fill="#00ff00"/>
<path d="M1025,798.4L1077.3,782.4L1126.2,795.5L1073.9,811.3Z" fill="#00ff00"/>
<path d="M1126.2,795.5L1177.8,779.9L1227.4,793.4L1175.8,808.8Z" fill="#00ff00"/>
<path d="M1227.4,793.4L1278.4,778.2L1328.6,792.1L1277.7,807.1Z" fill="#00ff00"/>
<path d="M1328.6,792.1L1378.9,777.3L1429.9,791.5L1379.6,806.2Z" fill="#00ff00"/>
<path d="M1429.9,791.5L1479.5,777.1L1531.1,791.8L1481.5,806Z" fill="#00ff00"/>
<path d="M1531.1,791.8L1580,777.7L1632.3,792.8L1583.5,806.6Z" fill="#00ff00"/>
<path d="M1632.3,792.8L1680.6,779.1L1733.5,794.6L1685.4,808Z" fill="#00ff00"/>
<path d="M1733.5,794.6L1781.1,781.3L1834.7,797.2L1787.2,810.2Z" fill="#00ff00"/>
<path d="M870.2,818.7L923.9,802.1L972,814.6L918.3,831.1Z" fill="#00ff00"/>
<path d="M972,814.6L1025,798.4L1073.9,811.3L1020.8,827.4Z" fill="#00ff00"/>
<path d="M1073.9,811.3L1126.2,795.5L1175.8,808.8L1123.4,824.5Z" fill="#00ff00"/>
<path d="M1175.8,808.8L1227.4,793.4L1277.7,807.1L1226,822.3Z" fill="#00ff00"/>
<path d="M1277.7,807.1L1328.6,792.1L1379.6,806.2L1328.6,821Z" fill="#00ff00"/>
<path d="M1379.6,806.2L1429.9,791.5L1481.5,806L1431.3,820.4Z" fill="#00ff00"/>
<path d="M1481.5,806L1531.1,791.8L1583.5,806.6L1533.9,820.7Z" fill="#00ff00"/>
<path d="M1583.5,806.6L1632.3,792.8L1685.4,808L1636.5,821.7Z" fill="#00ff00"/>
<path d="M1685.4,808L1733.5,794.6L1787.2,810.2L1739.1,823.5Z" fill="#00ff00"/>
<path d="M918.3,831.1L972,814.6L1020.8,827.4L967.1,843.6Z" fill="#00ff00"/>
<path d="M1020.8,827.4L1073.9,811.3L1123.4,824.5L1070.3,840.3Z" fill="#00ff00"/>
<path d="M1123.4,824.5L1175.8,808.8L1226,822.3L1173.6,837.8Z" fill="#00ff00"/>
<path d="M1226,822.3L1277.7,807.1L1328.6,821L1277,836Z" fill="#00ff00"/>
<path d="M1328.6,821L1379.6,806.2L1431.3,820.4L1380.3,835.1Z" fill="#00ff00"/>
<path d="M1431.3,820.4L1481.5,806L1533.9,820.7L1483.7,834.9Z" fill="#00ff00"/>
<path d="M1533.9,820.7L1583.5,806.6L1636.5,821.7L1587,835.5Z" fill="#00ff00"/>
<path d="M1636.5,821.7L1685.4,808L1739.1,823.5L1690.3,837Z" fill="#00ff00"/>
<path d="M967.1,843.6L1020.8,827.4L1070.3,840.3L1016.5,856.4Z" fill="#00ff00"/>
<path d="M1070.3,840.3L1123.4,824.5L1173.6,837.8L1120.5,853.4Z" fill="#00ff00"/>
<path d="M1173.6,837.8L1226,822.3L1277,836L1224.6,851.3Z" fill="#00ff00"/>
<path d="M1277,836L1328.6,821L1380.3,835.1L1328.6,849.9Z" fill="#00ff00"/>
<path d="M1380.3,835.1L1431.3,820.4L1483.7,834.9L1432.7,849.3Z" fill="#00ff00"/>
<path d="M1483.7,834.9L1533.9,820.7L1587,835.5L1536.8,849.6Z" fill="#00ff00"/>
<path d="M1587,835.5L1636.5,821.7L1690.3,837L1640.8,850.6Z" fill="#00ff00"/>
<path d="M1016.5,856.4L1070.3,840.3L1120.5,853.4L1066.7,869.3Z" fill="#00ff00"/>
<path d="M1120.5,853.4L1173.6,837.8L1224.6,851.3L1171.4,866.7Z" fill="#00ff00"/>
<path d="M1224.6,851.3L1277,836L1328.6,849.9L1276.2,864.9Z" fill="#00ff00"/>
<path d="M1328.6,849.9L1380.3,835.1L1432.7,849.3L1381,864Z" fill="#00ff00"/>
<path d="M1432.7,849.3L1483.7,834.9L1536.8,849.6L1485.8,863.8Z" fill="#00ff00"/>
<path d="M1536.8,849.6L1587,835.5L1640.8,850.6L1590.6,864.5Z" fill="#00ff00"/>
<path d="M1066.7,869.3L1120.5,853.4L1171.4,866.7L1117.6,882.4Z" fill="#00ff00"/>
<path d="M1171.4,866.7L1224.6,851.3L1276.2,864.9L1223.1,880.2Z" fill="#00ff00"/>
<path d="M1276.2,864.9L1328.6,849.9L1381,864L1328.6,878.8Z" fill="#00ff00"/>
<path d="M1381,864L1432.7,849.3L1485.8,863.8L1434.2,878.3Z" fill="#00ff00"/>
<path d="M1485.8,863.8L1536.8,849.6L1590.6,864.5L1539.7,878.5Z" fill="#00ff00"/>
<path d="M1117.6,882.4L1171.4,866.7L1223.1,880.2L1169.2,895.7Z" fill="#00ff00"/>
<path d="M1223.1,880.2L1276.2,864.9L1328.6,878.8L1275.5,893.9Z" fill="#00ff00"/>
<path d="M1328.6,878.8L1381,864L1434.2,878.3L1381.8,892.9Z" fill="#00ff00"/>
<path d="M1434.2,878.3L1485.8,863.8L1539.7,878.5L1488.1,892.7Z" fill="#00ff00"/>
<path d="M1169.2,895.7L1223.1,880.2L1275.5,893.9L1221.6,909.2Z" fill="#00ff00"/>
<path d="M1275.5,893.9L1328.6,878.8L1381.8,892.9L1328.6,907.8Z" fill="#00ff00"/>
<path d="M1381.8,892.9L1434.2,878.3L1488.1,892.7L1435.7,907.2Z" fill="#00ff00"/>
<path d="M1221.6,909.2L1275.5,893.9L1328.6,907.8L1274.7,922.8Z" fill="#00ff00"/>
<path d="M1328.6,907.8L1381.8,892.9L1435.7,907.2L1382.6,921.8Z" fill="#00ff00"/>
<path d="M1274.7,922.8L1328.6,907.8L1382.6,921.8L1328.6,936.7Z" fill="#00ff00"/>
</g>
<g fill="#000"><circle cx="405.2" cy="1202.8" r="9.2"/><circle cx="396.2" cy="1012.6" r="9.2"/><circle cx="387.1" cy="822.5" r="9.2"/><circle cx="378.1" cy="632.3" r="9.2"/><circle cx="369" cy="442.2" r="9.2"/><circle cx="360" cy="252" r="9.2"/><circle cx="419.3" cy="1499.2" r="9.2"/><circle cx="549.2" cy="1561.5" r="9.2"/><circle cx="679.1" cy="1623.7" r="9.2"/><circle cx="809" cy="1686" r="9.2"/><circle cx="939" cy="1748.2" r="9.2"/><circle cx="1068.9" cy="1810.5" r="9.2"/><circle cx="1198.8" cy="1872.7" r="9.2"/><circle cx="1328.7" cy="1935" r="9.2"/><circle cx="1555.9" cy="1826" r="9.2"/><circle cx="1783.2" cy="1717.1" r="9.2"/><circle cx="2010.4" cy="1608.2" r="9.2"/><circle cx="2237.6" cy="1499.2" r="9.2"/></g>
<g font-size="65.5"><text x="248.8" y="1186.5" textLength="124.4" lengthAdjust="spacingAndGlyphs">1000</text><text x="239.7" y="996.3" textLength="124.4" lengthAdjust="spacingAndGlyphs">2000</text><text x="230.7" y="806.2" textLength="124.4" lengthAdjust="spacingAndGlyphs">3000</text><text x="221.6" y="616" textLength="124.4" lengthAdjust="spacingAndGlyphs">4000</text><text x="212.6" y="425.9" textLength="124.4" lengthAdjust="spacingAndGlyphs">5000</text><text x="203.6" y="235.7" textLength="124.4" lengthAdjust="spacingAndGlyphs">6000</text><text x="293" y="1557.7" textLength="93.3" lengthAdjust="spacingAndGlyphs">200</text><text x="422.9" y="1620" textLength="93.3" lengthAdjust="spacingAndGlyphs">175</text><text x="552.8" y="1682.2" textLength="93.3" lengthAdjust="spacingAndGlyphs">150</text><text x="682.7" y="1744.5" textLength="93.3" lengthAdjust="spacingAndGlyphs">125</text><text x="812.6" y="1806.7" textLength="93.3" lengthAdjust="spacingAndGlyphs">100</text><text x="973.6" y="1869" textLength="62.2" lengthAdjust="spacingAndGlyphs">75</text><text x="1103.6" y="1931.2" textLength="62.2" lengthAdjust="spacingAndGlyphs">50</text><text x="1233.5" y="1993.5" textLength="62.2" lengthAdjust="spacingAndGlyphs">25</text><text x="1361.7" y="1994" textLength="31.1" lengthAdjust="spacingAndGlyphs">5</text><text x="1588.9" y="1885" textLength="62.2" lengthAdjust="spacingAndGlyphs">10</text><text x="1816.2" y="1776.1" textLength="62.2" lengthAdjust="spacingAndGlyphs">15</text><text x="2043.4" y="1667.2" textLength="62.2" lengthAdjust="spacingAndGlyphs">20</text><text x="2270.6" y="1558.2" textLength="62.2" lengthAdjust="spacingAndGlyphs">25</text></g>
<g font-size="69">
<text x="132" y="1895.7" textLength="785.7" lengthAdjust="spacingAndGlyphs">Temperature [Celsius Degree]</text>
<text x="1990.2" y="1895.7" textLength="283.2" lengthAdjust="spacingAndGlyphs">Force [kN]</text>
<text transform="translate(81.5,1198) rotate(-90)" textLength="607" lengthAdjust="spacingAndGlyphs">Young Modulus [MPa]</text>
</g>
<rect x="337.7" y="66.2" width="181" height="51.1" fill="url(#cb)" stroke="#000" stroke-width="3"/>
<text class="sans" x="127" y="116.5" textLength="175" lengthAdjust="spacingAndGlyphs" fill="#5a5aff" stroke="#5a5aff">1535.81</text>
<text class="sans" x="550" y="116.5" textLength="181" lengthAdjust="spacingAndGlyphs" fill="#ff4646" stroke="#ff4646">6213.66</text>
<text x="1176.6" y="2098.5" font-size="75" text-anchor="middle">(<tspan font-weight="bold">c</tspan>)</text>
</g>
<g id="plot-d">
<polygon points="418.7,3597.3 1319.7,3258 2220.4,3597.3 1319.7,4030" fill="#656565" stroke="#000" stroke-width="3.6" stroke-linejoin="miter"/>
<path d="M404.7,3302.9L1319.7,2992.7 M1319.7,2992.7L2234.5,3302.9 M395.6,3114.1L1319.7,2822.6 M1319.7,2822.6L2243.6,3114.1 M386.6,2925.3L1319.7,2652.4 M1319.7,2652.4L2252.6,2925.3 M377.6,2736.5L1319.7,2482.3 M1319.7,2482.3L2261.7,2736.5 M368.6,2547.7L1319.7,2312.1 M1319.7,2312.1L2270.7,2547.7 M599.6,2304.7L633.4,3225.4 M839.7,2250.4L862.2,3147.8 M1079.7,2196.2L1090.9,3070.3 M1456.9,2173L1450.4,3037.1 M1594,2204L1581.1,3081.4 M1731.2,2235L1711.8,3125.7 M1868.3,2265.9L1842.5,3170 M2005.5,2296.9L1973.1,3214.3 M2142.6,2327.9L2103.8,3258.6 M359.6,2358.9L418.7,3597.3 M2279.8,2358.9L2220.4,3597.3" fill="none" stroke="#1c1c1c" stroke-width="3.1"/>
<path d="M1319.7,2142L1319.7,3258" fill="none" stroke="#595959" stroke-width="4.6"/>
<polyline points="359.6,2358.9 1319.7,2142 2279.8,2358.9" fill="none" stroke="#000" stroke-width="3.6" stroke-linejoin="round"/>
<path d="M2085.6,3661.9C2081.6,3659 2069.7,3650.3 2061.9,3644.4C2054,3638.4 2046.2,3632.5 2038.4,3626.5C2030.7,3620.4 2022.9,3614.3 2015.3,3608.2C2007.6,3602 2000,3595.7 1992.5,3589.4C1985,3583.1 1977.5,3576.7 1970.2,3570.2C1962.8,3563.7 1955.5,3557.1 1948.3,3550.4C1941.1,3543.7 1933.9,3537 1927,3530.1C1920,3523.1 1913.1,3516.1 1906.3,3509C1899.6,3501.8 1892.9,3494.6 1886.5,3487.2C1880.1,3479.7 1870.8,3468.3 1867.7,3464.5" fill="none" stroke="#00ff00" stroke-width="5.2"/>
<path d="M1945.3,3729.3C1941.3,3726.8 1929.2,3719.3 1921.2,3714.2C1913.1,3709.1 1905.1,3704 1897.2,3698.9C1889.2,3693.7 1881.2,3688.5 1873.3,3683.3C1865.4,3678.1 1857.5,3672.8 1849.6,3667.5C1841.8,3662.2 1833.9,3656.8 1826.1,3651.4C1818.3,3646 1810.5,3640.6 1802.8,3635.1C1795.1,3629.6 1787.4,3624 1779.7,3618.4C1772.1,3612.7 1764.5,3607.1 1756.9,3601.3C1749.4,3595.6 1741.9,3589.7 1734.5,3583.8C1727,3577.9 1719.6,3572 1712.3,3565.9C1705,3559.8 1697.8,3553.7 1690.7,3547.5C1683.5,3541.2 1676.4,3534.9 1669.5,3528.4C1662.5,3521.9 1655.7,3515.4 1649,3508.7C1642.2,3502 1635.6,3495.2 1629.2,3488.2C1622.8,3481.2 1616.5,3474.1 1610.4,3466.8C1604.3,3459.5 1598.4,3452 1592.8,3444.4C1587.3,3436.7 1581.8,3428.9 1576.9,3420.8C1571.9,3412.7 1567.1,3404.5 1562.9,3396C1558.8,3387.5 1554.9,3378.7 1551.7,3369.8C1548.5,3360.9 1545.1,3347.1 1543.8,3342.5" fill="none" stroke="#00ff00" stroke-width="5.2"/>
<path d="M1799,3799.6C1794.7,3797.4 1782,3790.7 1773.5,3786.2C1765.1,3781.7 1756.6,3777.1 1748.2,3772.6C1739.7,3768 1731.3,3763.5 1722.8,3758.9C1714.4,3754.3 1706,3749.7 1697.6,3745.1C1689.2,3740.5 1680.8,3735.9 1672.4,3731.2C1664,3726.5 1655.6,3721.9 1647.2,3717.2C1638.9,3712.5 1630.5,3707.7 1622.2,3703C1613.9,3698.2 1605.5,3693.4 1597.2,3688.6C1588.9,3683.8 1580.7,3679 1572.4,3674.1C1564.1,3669.2 1555.9,3664.3 1547.6,3659.4C1539.4,3654.4 1531.2,3649.5 1523,3644.5C1514.9,3639.4 1506.7,3634.4 1498.6,3629.3C1490.4,3624.2 1482.3,3619 1474.3,3613.8C1466.2,3608.6 1458.2,3603.4 1450.2,3598.1C1442.2,3592.8 1434.2,3587.4 1426.3,3582C1418.4,3576.6 1410.5,3571.1 1402.7,3565.5C1394.9,3560 1387.1,3554.3 1379.4,3548.6C1371.7,3542.8 1364.1,3537 1356.6,3531.1C1349,3525.2 1341.5,3519.2 1334.2,3513C1326.8,3506.9 1319.5,3500.6 1312.4,3494.2C1305.3,3487.8 1298.2,3481.2 1291.4,3474.5C1284.6,3467.8 1277.9,3460.9 1271.5,3453.7C1265.1,3446.6 1258.8,3439.3 1253,3431.7C1247.1,3424.1 1241.5,3416.3 1236.5,3408.1C1231.5,3400 1226.7,3391.5 1222.9,3382.8C1219,3374 1215.6,3364.9 1213.4,3355.6C1211.2,3346.4 1209.7,3336.7 1209.5,3327.2C1209.3,3317.7 1211.7,3303.4 1212.1,3298.6" fill="none" stroke="#14ff00" stroke-width="5.2"/>
<path d="M1646.2,3873.1C1641.9,3871.1 1628.8,3865.3 1620.1,3861.4C1611.4,3857.5 1602.7,3853.7 1594,3849.8C1585.3,3845.9 1576.6,3842 1567.9,3838.1C1559.2,3834.3 1550.5,3830.4 1541.8,3826.5C1533.1,3822.6 1524.4,3818.7 1515.7,3814.8C1507,3811 1498.3,3807.1 1489.6,3803.2C1480.8,3799.3 1472.1,3795.4 1463.4,3791.5C1454.7,3787.6 1446,3783.7 1437.3,3779.8C1428.6,3775.9 1419.9,3772.1 1411.2,3768.2C1402.5,3764.3 1393.8,3760.4 1385.1,3756.5C1376.5,3752.6 1367.8,3748.7 1359.1,3744.8C1350.4,3740.9 1341.7,3737 1333,3733.1C1324.3,3729.2 1315.6,3725.3 1306.9,3721.4C1298.2,3717.5 1289.5,3713.5 1280.8,3709.6C1272.1,3705.7 1263.4,3701.8 1254.7,3697.9C1246,3694 1237.3,3690.1 1228.7,3686.2C1220,3682.2 1211.3,3678.3 1202.6,3674.4C1193.9,3670.5 1185.2,3666.5 1176.5,3662.6C1167.9,3658.7 1159.2,3654.8 1150.5,3650.8C1141.8,3646.9 1133.1,3642.9 1124.5,3639C1115.8,3635.1 1107.1,3631.1 1098.4,3627.2C1089.8,3623.2 1081.1,3619.3 1072.4,3615.3C1063.7,3611.4 1055.1,3607.4 1046.4,3603.4C1037.7,3599.5 1029.1,3595.5 1020.4,3591.5C1011.7,3587.5 1003.1,3583.6 994.4,3579.6C985.8,3575.6 977.1,3571.6 968.5,3567.6C959.8,3563.6 951.2,3559.6 942.5,3555.6C933.9,3551.6 925.2,3547.5 916.6,3543.5C908,3539.5 899.3,3535.4 890.7,3531.4C882.1,3527.3 873.5,3523.2 864.9,3519.1C856.2,3515.1 847.6,3511 839,3506.9C830.4,3502.7 821.8,3498.6 813.3,3494.5C804.7,3490.3 796.1,3486.2 787.6,3482C779,3477.8 766.2,3471.4 761.9,3469.3" fill="none" stroke="#96f609" stroke-width="5.2"/>
<path d="M614.7,3691.2C619.3,3692 633.1,3694.4 642.4,3696.1C651.7,3697.8 661.1,3699.6 670.4,3701.4C679.7,3703.2 689,3705 698.3,3706.9C707.6,3708.8 716.9,3710.8 726.2,3712.8C735.5,3714.8 744.7,3716.8 754,3718.9C763.2,3721 772.5,3723.1 781.7,3725.3C791,3727.5 800.2,3729.7 809.4,3732C818.6,3734.2 827.8,3736.5 837,3738.8C846.2,3741.2 855.4,3743.5 864.6,3745.9C873.8,3748.3 883,3750.8 892.1,3753.3C901.3,3755.7 910.4,3758.2 919.6,3760.8C928.7,3763.3 937.9,3765.9 947,3768.5C956.1,3771.1 965.2,3773.7 974.3,3776.4C983.5,3779 992.6,3781.7 1001.7,3784.4C1010.7,3787.1 1019.8,3789.9 1028.9,3792.6C1038,3795.4 1047.1,3798.2 1056.1,3801C1065.2,3803.8 1074.2,3806.7 1083.3,3809.5C1092.3,3812.4 1101.4,3815.3 1110.4,3818.2C1119.5,3821.1 1128.5,3824 1137.5,3826.9C1146.5,3829.9 1155.5,3832.8 1164.6,3835.8C1173.6,3838.8 1182.6,3841.8 1191.6,3844.8C1200.6,3847.8 1209.6,3850.9 1218.5,3853.9C1227.5,3857 1236.5,3860.1 1245.5,3863.1C1254.5,3866.2 1263.4,3869.3 1272.4,3872.5C1281.3,3875.6 1290.3,3878.7 1299.3,3881.8C1308.2,3885 1317.2,3888.2 1326.1,3891.3C1335,3894.5 1344,3897.7 1352.9,3900.9C1361.9,3904.1 1370.8,3907.3 1379.7,3910.5C1388.6,3913.8 1397.6,3917 1406.5,3920.2C1415.4,3923.5 1424.3,3926.8 1433.2,3930C1442.1,3933.3 1451,3936.6 1459.9,3939.9C1468.8,3943.2 1482.2,3948.1 1486.6,3949.8" fill="none" stroke="#e1ee14" stroke-width="5.2"/>
<g stroke="#0b2b0b" stroke-width="3.0" stroke-linejoin="round">
<path d="M1277.5,2429.6L1319.6,2421.6L1361.7,2437.3L1319.6,2445.1Z" fill="#13ff00"/>
<path d="M1234.9,2437.6L1277.5,2429.6L1319.6,2445.1L1277,2452.9Z" fill="#1bff00"/>
<path d="M1319.6,2445.1L1361.7,2437.3L1404.3,2453.2L1362.2,2460.8Z" fill="#07ff00"/>
<path d="M1191.7,2445.8L1234.9,2437.6L1277,2452.9L1233.9,2460.9Z" fill="#24ff00"/>
<path d="M1277,2452.9L1319.6,2445.1L1362.2,2460.8L1319.6,2468.4Z" fill="#11ff00"/>
<path d="M1362.2,2460.8L1404.3,2453.2L1447.4,2469.3L1405.3,2476.6Z" fill="#00ff00"/>
<path d="M1148.1,2454L1191.7,2445.8L1233.9,2460.9L1190.2,2468.9Z" fill="#2cff00"/>
<path d="M1233.9,2460.9L1277,2452.9L1319.6,2468.4L1276.5,2476.2Z" fill="#1aff00"/>
<path d="M1319.6,2468.4L1362.2,2460.8L1405.3,2476.6L1362.7,2484.1Z" fill="#06ff00"/>
<path d="M1405.3,2476.6L1447.4,2469.3L1490.9,2485.5L1448.9,2492.7Z" fill="#00ff00"/>
<path d="M1103.9,2462.4L1148.1,2454L1190.2,2468.9L1146.1,2477.1Z" fill="#35ff00"/>
<path d="M1190.2,2468.9L1233.9,2460.9L1276.5,2476.2L1232.9,2484Z" fill="#24ff00"/>
<path d="M1276.5,2476.2L1319.6,2468.4L1362.7,2484.1L1319.6,2491.6Z" fill="#10ff00"/>
<path d="M1362.7,2484.1L1405.3,2476.6L1448.9,2492.7L1406.3,2499.9Z" fill="#00ff00"/>
<path d="M1448.9,2492.7L1490.9,2485.5L1534.9,2502L1492.9,2508.9Z" fill="#00ff00"/>
<path d="M1059.2,2470.8L1103.9,2462.4L1146.1,2477.1L1101.4,2485.3Z" fill="#3eff00"/>
<path d="M1146.1,2477.1L1190.2,2468.9L1232.9,2484L1188.7,2492Z" fill="#2dff00"/>
<path d="M1232.9,2484L1276.5,2476.2L1319.6,2491.6L1276,2499.3Z" fill="#1bff00"/>
<path d="M1319.6,2491.6L1362.7,2484.1L1406.3,2499.9L1363.2,2507.3Z" fill="#07ff00"/>
<path d="M1406.3,2499.9L1448.9,2492.7L1492.9,2508.9L1450.4,2516Z" fill="#00ff00"/>
<path d="M1492.9,2508.9L1534.9,2502L1579.4,2518.6L1537.4,2525.3Z" fill="#00ff00"/>
<path d="M1014,2479.4L1059.2,2470.8L1101.4,2485.3L1056.1,2493.7Z" fill="#46ff00"/>
<path d="M1101.4,2485.3L1146.1,2477.1L1188.7,2492L1144,2500Z" fill="#36ff00"/>
<path d="M1188.7,2492L1232.9,2484L1276,2499.3L1231.9,2507Z" fill="#25ff00"/>
<path d="M1276,2499.3L1319.6,2491.6L1363.2,2507.3L1319.6,2514.7Z" fill="#12ff00"/>
<path d="M1363.2,2507.3L1406.3,2499.9L1450.4,2516L1407.3,2523.1Z" fill="#00ff00"/>
<path d="M1450.4,2516L1492.9,2508.9L1537.4,2525.3L1495,2532.2Z" fill="#00ff00"/>
<path d="M1537.4,2525.3L1579.4,2518.6L1624.4,2535.4L1582.5,2541.9Z" fill="#00ff00"/>
<path d="M968.2,2488.1L1014,2479.4L1056.1,2493.7L1010.3,2502.1Z" fill="#4fff00"/>
<path d="M1056.1,2493.7L1101.4,2485.3L1144,2500L1098.8,2508.1Z" fill="#40ff00"/>
<path d="M1144,2500L1188.7,2492L1231.9,2507L1187.2,2514.8Z" fill="#2fff00"/>
<path d="M1231.9,2507L1276,2499.3L1319.6,2514.7L1275.5,2522.2Z" fill="#1dff00"/>
<path d="M1319.6,2514.7L1363.2,2507.3L1407.3,2523.1L1363.8,2530.3Z" fill="#09ff00"/>
<path d="M1407.3,2523.1L1450.4,2516L1495,2532.2L1451.9,2539.1Z" fill="#00ff00"/>
<path d="M1495,2532.2L1537.4,2525.3L1582.5,2541.9L1540,2548.5Z" fill="#00ff00"/>
<path d="M1582.5,2541.9L1624.4,2535.4L1669.9,2552.4L1628.1,2558.7Z" fill="#00ff00"/>
<path d="M921.9,2496.8L968.2,2488.1L1010.3,2502.1L964,2510.7Z" fill="#57ff00"/>
<path d="M1010.3,2502.1L1056.1,2493.7L1098.8,2508.1L1053,2516.3Z" fill="#49ff00"/>
<path d="M1098.8,2508.1L1144,2500L1187.2,2514.8L1141.9,2522.7Z" fill="#3aff00"/>
<path d="M1187.2,2514.8L1231.9,2507L1275.5,2522.2L1230.8,2529.8Z" fill="#28ff00"/>
<path d="M1275.5,2522.2L1319.6,2514.7L1363.8,2530.3L1319.6,2537.6Z" fill="#15ff00"/>
<path d="M1363.8,2530.3L1407.3,2523.1L1451.9,2539.1L1408.4,2546.1Z" fill="#00ff00"/>
<path d="M1451.9,2539.1L1495,2532.2L1540,2548.5L1497.1,2555.2Z" fill="#00ff00"/>
<path d="M1540,2548.5L1582.5,2541.9L1628.1,2558.7L1585.7,2565.1Z" fill="#00ff00"/>
<path d="M1628.1,2558.7L1669.9,2552.4L1716,2569.6L1674.1,2575.7Z" fill="#00ff00"/>
<path d="M874.9,2505.7L921.9,2496.8L964,2510.7L917,2519.3Z" fill="#60ff00"/>
<path d="M964,2510.7L1010.3,2502.1L1053,2516.3L1006.6,2524.7Z" fill="#53ff00"/>
<path d="M1053,2516.3L1098.8,2508.1L1141.9,2522.7L1096.1,2530.7Z" fill="#44ff00"/>
<path d="M1141.9,2522.7L1187.2,2514.8L1230.8,2529.8L1185.5,2537.5Z" fill="#33ff00"/>
<path d="M1230.8,2529.8L1275.5,2522.2L1319.6,2537.6L1275,2545Z" fill="#21ff00"/>
<path d="M1319.6,2537.6L1363.8,2530.3L1408.4,2546.1L1364.3,2553.2Z" fill="#0dff00"/>
<path d="M1408.4,2546.1L1451.9,2539.1L1497.1,2555.2L1453.5,2562Z" fill="#00ff00"/>
<path d="M1497.1,2555.2L1540,2548.5L1585.7,2565.1L1542.7,2571.6Z" fill="#00ff00"/>
<path d="M1585.7,2565.1L1628.1,2558.7L1674.1,2575.7L1631.8,2581.9Z" fill="#00ff00"/>
<path d="M1674.1,2575.7L1716,2569.6L1762.5,2586.9L1720.8,2592.9Z" fill="#00ff00"/>
<path d="M827.4,2514.7L874.9,2505.7L917,2519.3L869.5,2528.1Z" fill="#68ff00"/>
<path d="M917,2519.3L964,2510.7L1006.6,2524.7L959.6,2533.1Z" fill="#5cff00"/>
<path d="M1006.6,2524.7L1053,2516.3L1096.1,2530.7L1049.7,2538.9Z" fill="#4eff00"/>
<path d="M1096.1,2530.7L1141.9,2522.7L1185.5,2537.5L1139.7,2545.3Z" fill="#3eff00"/>
<path d="M1185.5,2537.5L1230.8,2529.8L1275,2545L1229.7,2552.5Z" fill="#2dff00"/>
<path d="M1275,2545L1319.6,2537.6L1364.3,2553.2L1319.6,2560.3Z" fill="#1aff00"/>
<path d="M1364.3,2553.2L1408.4,2546.1L1453.5,2562L1409.5,2568.9Z" fill="#05ff00"/>
<path d="M1453.5,2562L1497.1,2555.2L1542.7,2571.6L1499.2,2578.2Z" fill="#00ff00"/>
<path d="M1542.7,2571.6L1585.7,2565.1L1631.8,2581.9L1588.9,2588.2Z" fill="#00ff00"/>
<path d="M1631.8,2581.9L1674.1,2575.7L1720.8,2592.9L1678.5,2598.8Z" fill="#00ff00"/>
<path d="M1720.8,2592.9L1762.5,2586.9L1809.6,2604.5L1767.9,2610.2Z" fill="#00ff00"/>
<path d="M779.3,2523.8L827.4,2514.7L869.5,2528.1L821.4,2537Z" fill="#70ff00"/>
<path d="M869.5,2528.1L917,2519.3L959.6,2533.1L912,2541.7Z" fill="#65ff00"/>
<path d="M959.6,2533.1L1006.6,2524.7L1049.7,2538.9L1002.7,2547.1Z" fill="#58ff00"/>
<path d="M1049.7,2538.9L1096.1,2530.7L1139.7,2545.3L1093.3,2553.2Z" fill="#4aff00"/>
<path d="M1139.7,2545.3L1185.5,2537.5L1229.7,2552.5L1183.9,2560Z" fill="#39ff00"/>
<path d="M1229.7,2552.5L1275,2545L1319.6,2560.3L1274.4,2567.6Z" fill="#27ff00"/>
<path d="M1319.6,2560.3L1364.3,2553.2L1409.5,2568.9L1364.8,2575.9Z" fill="#13ff00"/>
<path d="M1409.5,2568.9L1453.5,2562L1499.2,2578.2L1455.2,2584.8Z" fill="#00ff00"/>
<path d="M1499.2,2578.2L1542.7,2571.6L1588.9,2588.2L1545.5,2594.5Z" fill="#00ff00"/>
<path d="M1588.9,2588.2L1631.8,2581.9L1678.5,2598.8L1635.6,2604.9Z" fill="#00ff00"/>
<path d="M1678.5,2598.8L1720.8,2592.9L1767.9,2610.2L1725.7,2616Z" fill="#00ff00"/>
<path d="M1767.9,2610.2L1809.6,2604.5L1857.3,2622.3L1815.6,2627.8Z" fill="#00ff00"/>
<path d="M730.6,2533L779.3,2523.8L821.4,2537L772.6,2546Z" fill="#78ff00"/>
<path d="M821.4,2537L869.5,2528.1L912,2541.7L863.9,2550.3Z" fill="#6eff00"/>
<path d="M912,2541.7L959.6,2533.1L1002.7,2547.1L955.1,2555.4Z" fill="#63ff00"/>
<path d="M1002.7,2547.1L1049.7,2538.9L1093.3,2553.2L1046.3,2561.2Z" fill="#55ff00"/>
<path d="M1093.3,2553.2L1139.7,2545.3L1183.9,2560L1137.5,2567.7Z" fill="#45ff00"/>
<path d="M1183.9,2560L1229.7,2552.5L1274.4,2567.6L1228.6,2575Z" fill="#34ff00"/>
<path d="M1274.4,2567.6L1319.6,2560.3L1364.8,2575.9L1319.6,2582.9Z" fill="#21ff00"/>
<path d="M1364.8,2575.9L1409.5,2568.9L1455.2,2584.8L1410.6,2591.6Z" fill="#0cff00"/>
<path d="M1455.2,2584.8L1499.2,2578.2L1545.5,2594.5L1501.5,2601Z" fill="#00ff00"/>
<path d="M1545.5,2594.5L1588.9,2588.2L1635.6,2604.9L1592.2,2611.1Z" fill="#00ff00"/>
<path d="M1635.6,2604.9L1678.5,2598.8L1725.7,2616L1682.9,2621.9Z" fill="#00ff00"/>
<path d="M1725.7,2616L1767.9,2610.2L1815.6,2627.8L1773.5,2633.4Z" fill="#00ff00"/>
<path d="M1815.6,2627.8L1857.3,2622.3L1905.5,2640.3L1863.9,2645.6Z" fill="#00ff00"/>
<path d="M681.3,2542.3L730.6,2533L772.6,2546L723.3,2555.1Z" fill="#80ff00"/>
<path d="M772.6,2546L821.4,2537L863.9,2550.3L815.1,2559.1Z" fill="#77ff00"/>
<path d="M863.9,2550.3L912,2541.7L955.1,2555.4L906.9,2563.8Z" fill="#6cff00"/>
<path d="M955.1,2555.4L1002.7,2547.1L1046.3,2561.2L998.7,2569.3Z" fill="#60ff00"/>
<path d="M1046.3,2561.2L1093.3,2553.2L1137.5,2567.7L1090.5,2575.5Z" fill="#51ff00"/>
<path d="M1137.5,2567.7L1183.9,2560L1228.6,2575L1182.2,2582.4Z" fill="#41ff00"/>
<path d="M1228.6,2575L1274.4,2567.6L1319.6,2582.9L1273.8,2590.1Z" fill="#2eff00"/>
<path d="M1319.6,2582.9L1364.8,2575.9L1410.6,2591.6L1365.4,2598.4Z" fill="#1aff00"/>
<path d="M1410.6,2591.6L1455.2,2584.8L1501.5,2601L1456.9,2607.5Z" fill="#05ff00"/>
<path d="M1501.5,2601L1545.5,2594.5L1592.2,2611.1L1548.3,2617.3Z" fill="#00ff00"/>
<path d="M1592.2,2611.1L1635.6,2604.9L1682.9,2621.9L1639.6,2627.8Z" fill="#00ff00"/>
<path d="M1682.9,2621.9L1725.7,2616L1773.5,2633.4L1730.8,2639Z" fill="#00ff00"/>
<path d="M1773.5,2633.4L1815.6,2627.8L1863.9,2645.6L1821.8,2650.9Z" fill="#00ff00"/>
<path d="M1863.9,2645.6L1905.5,2640.3L1954.2,2658.5L1912.8,2663.6Z" fill="#00ff00"/>
<path d="M631.4,2551.8L681.3,2542.3L723.3,2555.1L673.3,2564.3Z" fill="#88ff00"/>
<path d="M723.3,2555.1L772.6,2546L815.1,2559.1L765.7,2568Z" fill="#80ff00"/>
<path d="M815.1,2559.1L863.9,2550.3L906.9,2563.8L858.1,2572.4Z" fill="#76ff00"/>
<path d="M906.9,2563.8L955.1,2555.4L998.7,2569.3L950.5,2577.5Z" fill="#6bff00"/>
<path d="M998.7,2569.3L1046.3,2561.2L1090.5,2575.5L1042.9,2583.4Z" fill="#5dff00"/>
<path d="M1090.5,2575.5L1137.5,2567.7L1182.2,2582.4L1135.2,2590Z" fill="#4eff00"/>
<path d="M1182.2,2582.4L1228.6,2575L1273.8,2590.1L1227.4,2597.3Z" fill="#3cff00"/>
<path d="M1273.8,2590.1L1319.6,2582.9L1365.4,2598.4L1319.6,2605.3Z" fill="#29ff00"/>
<path d="M1365.4,2598.4L1410.6,2591.6L1456.9,2607.5L1411.7,2614.1Z" fill="#14ff00"/>
<path d="M1456.9,2607.5L1501.5,2601L1548.3,2617.3L1503.8,2623.6Z" fill="#00ff00"/>
<path d="M1548.3,2617.3L1592.2,2611.1L1639.6,2627.8L1595.7,2633.8Z" fill="#00ff00"/>
<path d="M1639.6,2627.8L1682.9,2621.9L1730.8,2639L1687.5,2644.7Z" fill="#00ff00"/>
<path d="M1730.8,2639L1773.5,2633.4L1821.8,2650.9L1779.2,2656.4Z" fill="#00ff00"/>
<path d="M1821.8,2650.9L1863.9,2645.6L1912.8,2663.6L1870.8,2668.7Z" fill="#00ff00"/>
<path d="M1912.8,2663.6L1954.2,2658.5L2003.6,2676.9L1962.2,2681.8Z" fill="#00ff00"/>
<path d="M580.8,2561.3L631.4,2551.8L673.3,2564.3L622.6,2573.6Z" fill="#90ff00"/>
<path d="M673.3,2564.3L723.3,2555.1L765.7,2568L715.7,2576.9Z" fill="#89ff00"/>
<path d="M765.7,2568L815.1,2559.1L858.1,2572.4L808.7,2581Z" fill="#80ff00"/>
<path d="M858.1,2572.4L906.9,2563.8L950.5,2577.5L901.7,2585.8Z" fill="#75ff00"/>
<path d="M950.5,2577.5L998.7,2569.3L1042.9,2583.4L994.6,2591.4Z" fill="#69ff00"/>
<path d="M1042.9,2583.4L1090.5,2575.5L1135.2,2590L1087.6,2597.6Z" fill="#5aff00"/>
<path d="M1135.2,2590L1182.2,2582.4L1227.4,2597.3L1180.4,2604.6Z" fill="#4aff00"/>
<path d="M1227.4,2597.3L1273.8,2590.1L1319.6,2605.3L1273.3,2612.3Z" fill="#38ff00"/>
<path d="M1319.6,2605.3L1365.4,2598.4L1411.7,2614.1L1366,2620.8Z" fill="#24ff00"/>
<path d="M1411.7,2614.1L1456.9,2607.5L1503.8,2623.6L1458.6,2630Z" fill="#0eff00"/>
<path d="M1503.8,2623.6L1548.3,2617.3L1595.7,2633.8L1551.2,2639.9Z" fill="#00ff00"/>
<path d="M1595.7,2633.8L1639.6,2627.8L1687.5,2644.7L1643.6,2650.5Z" fill="#00ff00"/>
<path d="M1687.5,2644.7L1730.8,2639L1779.2,2656.4L1736,2661.9Z" fill="#00ff00"/>
<path d="M1779.2,2656.4L1821.8,2650.9L1870.8,2668.7L1828.2,2673.9Z" fill="#00ff00"/>
<path d="M1870.8,2668.7L1912.8,2663.6L1962.2,2681.8L1920.3,2686.7Z" fill="#00ff00"/>
<path d="M1962.2,2681.8L2003.6,2676.9L2053.5,2695.6L2012.2,2700.2Z" fill="#00ff00"/>
<path d="M529.6,2571L580.8,2561.3L622.6,2573.6L571.3,2583.1Z" fill="#98ff00"/>
<path d="M622.6,2573.6L673.3,2564.3L715.7,2576.9L665,2586.1Z" fill="#91ff00"/>
<path d="M715.7,2576.9L765.7,2568L808.7,2581L758.6,2589.8Z" fill="#89ff00"/>
<path d="M808.7,2581L858.1,2572.4L901.7,2585.8L852.2,2594.2Z" fill="#80ff00"/>
<path d="M901.7,2585.8L950.5,2577.5L994.6,2591.4L945.8,2599.4Z" fill="#74ff00"/>
<path d="M994.6,2591.4L1042.9,2583.4L1087.6,2597.6L1039.3,2605.4Z" fill="#67ff00"/>
<path d="M1087.6,2597.6L1135.2,2590L1180.4,2604.6L1132.8,2612Z" fill="#58ff00"/>
<path d="M1180.4,2604.6L1227.4,2597.3L1273.3,2612.3L1226.3,2619.5Z" fill="#46ff00"/>
<path d="M1273.3,2612.3L1319.6,2605.3L1366,2620.8L1319.6,2627.6Z" fill="#33ff00"/>
<path d="M1366,2620.8L1411.7,2614.1L1458.6,2630L1412.9,2636.5Z" fill="#1eff00"/>
<path d="M1458.6,2630L1503.8,2623.6L1551.2,2639.9L1506.1,2646.1Z" fill="#08ff00"/>
<path d="M1551.2,2639.9L1595.7,2633.8L1643.6,2650.5L1599.2,2656.4Z" fill="#00ff00"/>
<path d="M1643.6,2650.5L1687.5,2644.7L1736,2661.9L1692.2,2667.5Z" fill="#00ff00"/>
<path d="M1736,2661.9L1779.2,2656.4L1828.2,2673.9L1785.1,2679.2Z" fill="#00ff00"/>
<path d="M1828.2,2673.9L1870.8,2668.7L1920.3,2686.7L1877.8,2691.7Z" fill="#00ff00"/>
<path d="M1920.3,2686.7L1962.2,2681.8L2012.2,2700.2L1970.4,2704.9Z" fill="#00ff00"/>
<path d="M2012.2,2700.2L2053.5,2695.6L2104,2714.4L2062.9,2718.9Z" fill="#00ff00"/>
<path d="M477.7,2580.8L529.6,2571L571.3,2583.1L519.4,2592.7Z" fill="#a0ff00"/>
<path d="M571.3,2583.1L622.6,2573.6L665,2586.1L613.6,2595.3Z" fill="#9aff00"/>
<path d="M665,2586.1L715.7,2576.9L758.6,2589.8L707.8,2598.7Z" fill="#93ff00"/>
<path d="M758.6,2589.8L808.7,2581L852.2,2594.2L802.1,2602.8Z" fill="#8aff00"/>
<path d="M852.2,2594.2L901.7,2585.8L945.8,2599.4L896.3,2607.6Z" fill="#7fff00"/>
<path d="M945.8,2599.4L994.6,2591.4L1039.3,2605.4L990.4,2613.2Z" fill="#73ff00"/>
<path d="M1039.3,2605.4L1087.6,2597.6L1132.8,2612L1084.6,2619.6Z" fill="#65ff00"/>
<path d="M1132.8,2612L1180.4,2604.6L1226.3,2619.5L1178.6,2626.7Z" fill="#55ff00"/>
<path d="M1226.3,2619.5L1273.3,2612.3L1319.6,2627.6L1272.7,2634.5Z" fill="#43ff00"/>
<path d="M1319.6,2627.6L1366,2620.8L1412.9,2636.5L1366.6,2643Z" fill="#2fff00"/>
<path d="M1412.9,2636.5L1458.6,2630L1506.1,2646.1L1460.4,2652.3Z" fill="#19ff00"/>
<path d="M1506.1,2646.1L1551.2,2639.9L1599.2,2656.4L1554.2,2662.3Z" fill="#01ff00"/>
<path d="M1599.2,2656.4L1643.6,2650.5L1692.2,2667.5L1647.8,2673.1Z" fill="#00ff00"/>
<path d="M1692.2,2667.5L1736,2661.9L1785.1,2679.2L1741.4,2684.6Z" fill="#00ff00"/>
<path d="M1785.1,2679.2L1828.2,2673.9L1877.8,2691.7L1834.8,2696.8Z" fill="#00ff00"/>
<path d="M1877.8,2691.7L1920.3,2686.7L1970.4,2704.9L1928,2709.7Z" fill="#00ff00"/>
<path d="M1970.4,2704.9L2012.2,2700.2L2062.9,2718.9L2021.1,2723.4Z" fill="#00ff00"/>
<path d="M2062.9,2718.9L2104,2714.4L2155.1,2733.5L2114.1,2737.7Z" fill="#00ff00"/>
<path d="M425.1,2590.8L477.7,2580.8L519.4,2592.7L466.7,2602.4Z" fill="#a8ff00"/>
<path d="M519.4,2592.7L571.3,2583.1L613.6,2595.3L561.6,2604.6Z" fill="#a3ff00"/>
<path d="M613.6,2595.3L665,2586.1L707.8,2598.7L656.4,2607.6Z" fill="#9dff00"/>
<path d="M707.8,2598.7L758.6,2589.8L802.1,2602.8L751.3,2611.4Z" fill="#94ff00"/>
<path d="M802.1,2602.8L852.2,2594.2L896.3,2607.6L846.1,2615.9Z" fill="#8bff00"/>
<path d="M896.3,2607.6L945.8,2599.4L990.4,2613.2L940.9,2621.2Z" fill="#7fff00"/>
<path d="M990.4,2613.2L1039.3,2605.4L1084.6,2619.6L1035.7,2627.2Z" fill="#72ff00"/>
<path d="M1084.6,2619.6L1132.8,2612L1178.6,2626.7L1130.4,2634Z" fill="#63ff00"/>
<path d="M1178.6,2626.7L1226.3,2619.5L1272.7,2634.5L1225,2641.4Z" fill="#52ff00"/>
<path d="M1272.7,2634.5L1319.6,2627.6L1366.6,2643L1319.6,2649.7Z" fill="#3fff00"/>
<path d="M1366.6,2643L1412.9,2636.5L1460.4,2652.3L1414.1,2658.7Z" fill="#2aff00"/>
<path d="M1460.4,2652.3L1506.1,2646.1L1554.2,2662.3L1508.5,2668.4Z" fill="#13ff00"/>
<path d="M1554.2,2662.3L1599.2,2656.4L1647.8,2673.1L1602.8,2678.8Z" fill="#00ff00"/>
<path d="M1647.8,2673.1L1692.2,2667.5L1741.4,2684.6L1697,2690Z" fill="#00ff00"/>
<path d="M1741.4,2684.6L1785.1,2679.2L1834.8,2696.8L1791.1,2701.9Z" fill="#00ff00"/>
<path d="M1834.8,2696.8L1877.8,2691.7L1928,2709.7L1885.1,2714.6Z" fill="#00ff00"/>
<path d="M1928,2709.7L1970.4,2704.9L2021.1,2723.4L1978.8,2727.9Z" fill="#00ff00"/>
<path d="M2021.1,2723.4L2062.9,2718.9L2114.1,2737.7L2072.5,2742Z" fill="#00ff00"/>
<path d="M2114.1,2737.7L2155.1,2733.5L2206.9,2752.8L2166,2756.8Z" fill="#00ff00"/>
<path d="M371.9,2600.8L425.1,2590.8L466.7,2602.4L413.4,2612.2Z" fill="#b0ff00"/>
<path d="M466.7,2602.4L519.4,2592.7L561.6,2604.6L508.8,2614.1Z" fill="#acff00"/>
<path d="M561.6,2604.6L613.6,2595.3L656.4,2607.6L604.3,2616.8Z" fill="#a6ff00"/>
<path d="M656.4,2607.6L707.8,2598.7L751.3,2611.4L699.8,2620.2Z" fill="#9fff00"/>
<path d="M751.3,2611.4L802.1,2602.8L846.1,2615.9L795.3,2624.3Z" fill="#96ff00"/>
<path d="M846.1,2615.9L896.3,2607.6L940.9,2621.2L890.7,2629.3Z" fill="#8bff00"/>
<path d="M940.9,2621.2L990.4,2613.2L1035.7,2627.2L986.1,2634.9Z" fill="#7fff00"/>
<path d="M1035.7,2627.2L1084.6,2619.6L1130.4,2634L1081.5,2641.3Z" fill="#71ff00"/>
<path d="M1130.4,2634L1178.6,2626.7L1225,2641.4L1176.8,2648.5Z" fill="#62ff00"/>
<path d="M1225,2641.4L1272.7,2634.5L1319.6,2649.7L1272,2656.4Z" fill="#4fff00"/>
<path d="M1319.6,2649.7L1366.6,2643L1414.1,2658.7L1367.2,2665.1Z" fill="#3bff00"/>
<path d="M1414.1,2658.7L1460.4,2652.3L1508.5,2668.4L1462.3,2674.5Z" fill="#25ff00"/>
<path d="M1508.5,2668.4L1554.2,2662.3L1602.8,2678.8L1557.3,2684.6Z" fill="#0eff00"/>
<path d="M1602.8,2678.8L1647.8,2673.1L1697,2690L1652.1,2695.5Z" fill="#00ff00"/>
<path d="M1697,2690L1741.4,2684.6L1791.1,2701.9L1746.9,2707.1Z" fill="#00ff00"/>
<path d="M1791.1,2701.9L1834.8,2696.8L1885.1,2714.6L1841.5,2719.5Z" fill="#00ff00"/>
<path d="M1885.1,2714.6L1928,2709.7L1978.8,2727.9L1936,2732.6Z" fill="#00ff00"/>
<path d="M1978.8,2727.9L2021.1,2723.4L2072.5,2742L2030.3,2746.4Z" fill="#00ff00"/>
<path d="M2072.5,2742L2114.1,2737.7L2166,2756.8L2124.5,2760.9Z" fill="#00ff00"/>
<path d="M2166,2756.8L2206.9,2752.8L2259.3,2772.4L2218.5,2776.2Z" fill="#00ff00"/>
<path d="M413.4,2612.2L466.7,2602.4L508.8,2614.1L455.4,2623.7Z" fill="#b5ff00"/>
<path d="M508.8,2614.1L561.6,2604.6L604.3,2616.8L551.5,2626Z" fill="#b0ff00"/>
<path d="M604.3,2616.8L656.4,2607.6L699.8,2620.2L647.6,2629.1Z" fill="#a9ff00"/>
<path d="M699.8,2620.2L751.3,2611.4L795.3,2624.3L743.7,2632.9Z" fill="#a1ff00"/>
<path d="M795.3,2624.3L846.1,2615.9L890.7,2629.3L839.8,2637.4Z" fill="#97ff00"/>
<path d="M890.7,2629.3L940.9,2621.2L986.1,2634.9L935.9,2642.8Z" fill="#8cff00"/>
<path d="M986.1,2634.9L1035.7,2627.2L1081.5,2641.3L1031.9,2648.8Z" fill="#7fff00"/>
<path d="M1081.5,2641.3L1130.4,2634L1176.8,2648.5L1127.9,2655.7Z" fill="#70ff00"/>
<path d="M1176.8,2648.5L1225,2641.4L1272,2656.4L1223.8,2663.3Z" fill="#60ff00"/>
<path d="M1272,2656.4L1319.6,2649.7L1367.2,2665.1L1319.6,2671.6Z" fill="#4dff00"/>
<path d="M1367.2,2665.1L1414.1,2658.7L1462.3,2674.5L1415.4,2680.7Z" fill="#38ff00"/>
<path d="M1462.3,2674.5L1508.5,2668.4L1557.3,2684.6L1511,2690.5Z" fill="#21ff00"/>
<path d="M1557.3,2684.6L1602.8,2678.8L1652.1,2695.5L1606.6,2701.1Z" fill="#09ff00"/>
<path d="M1652.1,2695.5L1697,2690L1746.9,2707.1L1702,2712.4Z" fill="#00ff00"/>
<path d="M1746.9,2707.1L1791.1,2701.9L1841.5,2719.5L1797.3,2724.5Z" fill="#00ff00"/>
<path d="M1841.5,2719.5L1885.1,2714.6L1936,2732.6L1892.5,2737.3Z" fill="#00ff00"/>
<path d="M1936,2732.6L1978.8,2727.9L2030.3,2746.4L1987.5,2750.8Z" fill="#00ff00"/>
<path d="M2030.3,2746.4L2072.5,2742L2124.5,2760.9L2082.4,2765.1Z" fill="#00ff00"/>
<path d="M2124.5,2760.9L2166,2756.8L2218.5,2776.2L2177.1,2780Z" fill="#00ff00"/>
<path d="M455.4,2623.7L508.8,2614.1L551.5,2626L498,2635.4Z" fill="#b9ff00"/>
<path d="M551.5,2626L604.3,2616.8L647.6,2629.1L594.8,2638Z" fill="#b4ff00"/>
<path d="M647.6,2629.1L699.8,2620.2L743.7,2632.9L691.5,2641.5Z" fill="#acff00"/>
<path d="M743.7,2632.9L795.3,2624.3L839.8,2637.4L788.3,2645.7Z" fill="#a3ff00"/>
<path d="M839.8,2637.4L890.7,2629.3L935.9,2642.8L885,2650.7Z" fill="#99ff00"/>
<path d="M935.9,2642.8L986.1,2634.9L1031.9,2648.8L981.7,2656.4Z" fill="#8dff00"/>
<path d="M1031.9,2648.8L1081.5,2641.3L1127.9,2655.7L1078.3,2662.9Z" fill="#7fff00"/>
<path d="M1127.9,2655.7L1176.8,2648.5L1223.8,2663.3L1174.9,2670.2Z" fill="#6fff00"/>
<path d="M1223.8,2663.3L1272,2656.4L1319.6,2671.6L1271.4,2678.2Z" fill="#5eff00"/>
<path d="M1319.6,2671.6L1367.2,2665.1L1415.4,2680.7L1367.8,2687Z" fill="#4aff00"/>
<path d="M1415.4,2680.7L1462.3,2674.5L1511,2690.5L1464.2,2696.5Z" fill="#34ff00"/>
<path d="M1511,2690.5L1557.3,2684.6L1606.6,2701.1L1560.4,2706.8Z" fill="#1cff00"/>
<path d="M1606.6,2701.1L1652.1,2695.5L1702,2712.4L1656.6,2717.8Z" fill="#03ff00"/>
<path d="M1702,2712.4L1746.9,2707.1L1797.3,2724.5L1752.6,2729.5Z" fill="#00ff00"/>
<path d="M1797.3,2724.5L1841.5,2719.5L1892.5,2737.3L1848.4,2742Z" fill="#00ff00"/>
<path d="M1892.5,2737.3L1936,2732.6L1987.5,2750.8L1944.2,2755.3Z" fill="#00ff00"/>
<path d="M1987.5,2750.8L2030.3,2746.4L2082.4,2765.1L2039.7,2769.3Z" fill="#00ff00"/>
<path d="M2082.4,2765.1L2124.5,2760.9L2177.1,2780L2135.1,2784Z" fill="#00ff00"/>
<path d="M498,2635.4L551.5,2626L594.8,2638L541.2,2647.2Z" fill="#bcff00"/>
<path d="M594.8,2638L647.6,2629.1L691.5,2641.5L638.6,2650.3Z" fill="#b8ff00"/>
<path d="M691.5,2641.5L743.7,2632.9L788.3,2645.7L736,2654.1Z" fill="#afff00"/>
<path d="M788.3,2645.7L839.8,2637.4L885,2650.7L833.4,2658.7Z" fill="#a6ff00"/>
<path d="M885,2650.7L935.9,2642.8L981.7,2656.4L930.7,2664.1Z" fill="#9aff00"/>
<path d="M981.7,2656.4L1031.9,2648.8L1078.3,2662.9L1028,2670.3Z" fill="#8dff00"/>
<path d="M1078.3,2662.9L1127.9,2655.7L1174.9,2670.2L1125.3,2677.2Z" fill="#7fff00"/>
<path d="M1174.9,2670.2L1223.8,2663.3L1271.4,2678.2L1222.5,2684.9Z" fill="#6eff00"/>
<path d="M1271.4,2678.2L1319.6,2671.6L1367.8,2687L1319.6,2693.3Z" fill="#5cff00"/>
<path d="M1367.8,2687L1415.4,2680.7L1464.2,2696.5L1416.7,2702.5Z" fill="#47ff00"/>
<path d="M1464.2,2696.5L1511,2690.5L1560.4,2706.8L1513.6,2712.5Z" fill="#30ff00"/>
<path d="M1560.4,2706.8L1606.6,2701.1L1656.6,2717.8L1610.4,2723.2Z" fill="#18ff00"/>
<path d="M1656.6,2717.8L1702,2712.4L1752.6,2729.5L1707.2,2734.7Z" fill="#00ff00"/>
<path d="M1752.6,2729.5L1797.3,2724.5L1848.4,2742L1803.7,2746.9Z" fill="#00ff00"/>
<path d="M1848.4,2742L1892.5,2737.3L1944.2,2755.3L1900.2,2759.8Z" fill="#00ff00"/>
<path d="M1944.2,2755.3L1987.5,2750.8L2039.7,2769.3L1996.5,2773.5Z" fill="#00ff00"/>
<path d="M2039.7,2769.3L2082.4,2765.1L2135.1,2784L2092.6,2787.9Z" fill="#00ff00"/>
<path d="M541.2,2647.2L594.8,2638L638.6,2650.3L584.9,2659.1Z" fill="#c0ff00"/>
<path d="M638.6,2650.3L691.5,2641.5L736,2654.1L683,2662.6Z" fill="#bbff00"/>
<path d="M736,2654.1L788.3,2645.7L833.4,2658.7L781,2666.9Z" fill="#b3ff00"/>
<path d="M833.4,2658.7L885,2650.7L930.7,2664.1L879.1,2672Z" fill="#a8ff00"/>
<path d="M930.7,2664.1L981.7,2656.4L1028,2670.3L977.1,2677.8Z" fill="#9cff00"/>
<path d="M1028,2670.3L1078.3,2662.9L1125.3,2677.2L1075,2684.3Z" fill="#8eff00"/>
<path d="M1125.3,2677.2L1174.9,2670.2L1222.5,2684.9L1172.9,2691.7Z" fill="#7eff00"/>
<path d="M1222.5,2684.9L1271.4,2678.2L1319.6,2693.3L1270.7,2699.8Z" fill="#6dff00"/>
<path d="M1319.6,2693.3L1367.8,2687L1416.7,2702.5L1368.5,2708.7Z" fill="#5aff00"/>
<path d="M1416.7,2702.5L1464.2,2696.5L1513.6,2712.5L1466.1,2718.3Z" fill="#44ff00"/>
<path d="M1513.6,2712.5L1560.4,2706.8L1610.4,2723.2L1563.7,2728.7Z" fill="#2dff00"/>
<path d="M1610.4,2723.2L1656.6,2717.8L1707.2,2734.7L1661.1,2739.9Z" fill="#13ff00"/>
<path d="M1707.2,2734.7L1752.6,2729.5L1803.7,2746.9L1758.4,2751.8Z" fill="#00ff00"/>
<path d="M1803.7,2746.9L1848.4,2742L1900.2,2759.8L1855.6,2764.4Z" fill="#00ff00"/>
<path d="M1900.2,2759.8L1944.2,2755.3L1996.5,2773.5L1952.6,2777.8Z" fill="#00ff00"/>
<path d="M1996.5,2773.5L2039.7,2769.3L2092.6,2787.9L2049.5,2792Z" fill="#00ff00"/>
<path d="M584.9,2659.1L638.6,2650.3L683,2662.6L629.2,2671.3Z" fill="#c3ff00"/>
<path d="M683,2662.6L736,2654.1L781,2666.9L728,2675.2Z" fill="#bdff00"/>
<path d="M781,2666.9L833.4,2658.7L879.1,2672L826.7,2679.9Z" fill="#b6ff00"/>
<path d="M879.1,2672L930.7,2664.1L977.1,2677.8L925.4,2685.3Z" fill="#aaff00"/>
<path d="M977.1,2677.8L1028,2670.3L1075,2684.3L1024.1,2691.6Z" fill="#9dff00"/>
<path d="M1075,2684.3L1125.3,2677.2L1172.9,2691.7L1122.6,2698.6Z" fill="#8fff00"/>
<path d="M1172.9,2691.7L1222.5,2684.9L1270.7,2699.8L1221.2,2706.3Z" fill="#7eff00"/>
<path d="M1270.7,2699.8L1319.6,2693.3L1368.5,2708.7L1319.6,2714.9Z" fill="#6cff00"/>
<path d="M1368.5,2708.7L1416.7,2702.5L1466.1,2718.3L1418,2724.2Z" fill="#58ff00"/>
<path d="M1466.1,2718.3L1513.6,2712.5L1563.7,2728.7L1516.3,2734.3Z" fill="#41ff00"/>
<path d="M1563.7,2728.7L1610.4,2723.2L1661.1,2739.9L1614.4,2745.1Z" fill="#29ff00"/>
<path d="M1661.1,2739.9L1707.2,2734.7L1758.4,2751.8L1712.4,2756.7Z" fill="#0fff00"/>
<path d="M1758.4,2751.8L1803.7,2746.9L1855.6,2764.4L1810.3,2769.1Z" fill="#00ff00"/>
<path d="M1855.6,2764.4L1900.2,2759.8L1952.6,2777.8L1908.1,2782.2Z" fill="#00ff00"/>
<path d="M1952.6,2777.8L1996.5,2773.5L2049.5,2792L2005.7,2796.1Z" fill="#00ff00"/>
<path d="M629.2,2671.3L683,2662.6L728,2675.2L674.2,2683.6Z" fill="#c6ff00"/>
<path d="M728,2675.2L781,2666.9L826.7,2679.9L773.6,2687.9Z" fill="#c0ff00"/>
<path d="M826.7,2679.9L879.1,2672L925.4,2685.3L873,2693Z" fill="#b9ff00"/>
<path d="M925.4,2685.3L977.1,2677.8L1024.1,2691.6L972.4,2698.9Z" fill="#adff00"/>
<path d="M1024.1,2691.6L1075,2684.3L1122.6,2698.6L1071.7,2705.6Z" fill="#9fff00"/>
<path d="M1122.6,2698.6L1172.9,2691.7L1221.2,2706.3L1170.9,2713Z" fill="#8fff00"/>
<path d="M1221.2,2706.3L1270.7,2699.8L1319.6,2714.9L1270.1,2721.2Z" fill="#7eff00"/>
<path d="M1319.6,2714.9L1368.5,2708.7L1418,2724.2L1369.2,2730.2Z" fill="#6bff00"/>
<path d="M1418,2724.2L1466.1,2718.3L1516.3,2734.3L1468.2,2740Z" fill="#56ff00"/>
<path d="M1516.3,2734.3L1563.7,2728.7L1614.4,2745.1L1567,2750.5Z" fill="#3fff00"/>
<path d="M1614.4,2745.1L1661.1,2739.9L1712.4,2756.7L1665.8,2761.8Z" fill="#25ff00"/>
<path d="M1712.4,2756.7L1758.4,2751.8L1810.3,2769.1L1764.4,2773.8Z" fill="#0aff00"/>
<path d="M1810.3,2769.1L1855.6,2764.4L1908.1,2782.2L1862.9,2786.6Z" fill="#00ff00"/>
<path d="M1908.1,2782.2L1952.6,2777.8L2005.7,2796.1L1961.3,2800.2Z" fill="#00ff00"/>
<path d="M674.2,2683.6L728,2675.2L773.6,2687.9L719.7,2696Z" fill="#c9ff00"/>
<path d="M773.6,2687.9L826.7,2679.9L873,2693L819.8,2700.8Z" fill="#c2ff00"/>
<path d="M873,2693L925.4,2685.3L972.4,2698.9L919.9,2706.3Z" fill="#bbff00"/>
<path d="M972.4,2698.9L1024.1,2691.6L1071.7,2705.6L1019.9,2712.6Z" fill="#afff00"/>
<path d="M1071.7,2705.6L1122.6,2698.6L1170.9,2713L1119.9,2719.7Z" fill="#a0ff00"/>
<path d="M1170.9,2713L1221.2,2706.3L1270.1,2721.2L1219.8,2727.6Z" fill="#90ff00"/>
<path d="M1270.1,2721.2L1319.6,2714.9L1369.2,2730.2L1319.6,2736.3Z" fill="#7eff00"/>
<path d="M1369.2,2730.2L1418,2724.2L1468.2,2740L1419.4,2745.7Z" fill="#6aff00"/>
<path d="M1468.2,2740L1516.3,2734.3L1567,2750.5L1519,2755.9Z" fill="#54ff00"/>
<path d="M1567,2750.5L1614.4,2745.1L1665.8,2761.8L1618.5,2766.9Z" fill="#3cff00"/>
<path d="M1665.8,2761.8L1712.4,2756.7L1764.4,2773.8L1717.9,2778.6Z" fill="#22ff00"/>
<path d="M1764.4,2773.8L1810.3,2769.1L1862.9,2786.6L1817.1,2791.2Z" fill="#06ff00"/>
<path d="M1862.9,2786.6L1908.1,2782.2L1961.3,2800.2L1916.2,2804.4Z" fill="#00ff00"/>
<path d="M719.7,2696L773.6,2687.9L819.8,2700.8L765.9,2708.7Z" fill="#ccff00"/>
<path d="M819.8,2700.8L873,2693L919.9,2706.3L866.7,2713.9Z" fill="#c5ff00"/>
<path d="M919.9,2706.3L972.4,2698.9L1019.9,2712.6L967.5,2719.8Z" fill="#bdff00"/>
<path d="M1019.9,2712.6L1071.7,2705.6L1119.9,2719.7L1068.2,2726.6Z" fill="#b1ff00"/>
<path d="M1119.9,2719.7L1170.9,2713L1219.8,2727.6L1168.8,2734.1Z" fill="#a2ff00"/>
<path d="M1219.8,2727.6L1270.1,2721.2L1319.6,2736.3L1269.4,2742.4Z" fill="#91ff00"/>
<path d="M1319.6,2736.3L1369.2,2730.2L1419.4,2745.7L1369.9,2751.5Z" fill="#7eff00"/>
<path d="M1419.4,2745.7L1468.2,2740L1519,2755.9L1470.2,2761.4Z" fill="#69ff00"/>
<path d="M1519,2755.9L1567,2750.5L1618.5,2766.9L1570.5,2772.1Z" fill="#52ff00"/>
<path d="M1618.5,2766.9L1665.8,2761.8L1717.9,2778.6L1670.7,2783.5Z" fill="#39ff00"/>
<path d="M1717.9,2778.6L1764.4,2773.8L1817.1,2791.2L1770.7,2795.7Z" fill="#1eff00"/>
<path d="M1817.1,2791.2L1862.9,2786.6L1916.2,2804.4L1870.5,2808.7Z" fill="#01ff00"/>
<path d="M765.9,2708.7L819.8,2700.8L866.7,2713.9L812.8,2721.5Z" fill="#cfff00"/>
<path d="M866.7,2713.9L919.9,2706.3L967.5,2719.8L914.3,2727.1Z" fill="#c8ff00"/>
<path d="M967.5,2719.8L1019.9,2712.6L1068.2,2726.6L1015.7,2733.5Z" fill="#bfff00"/>
<path d="M1068.2,2726.6L1119.9,2719.7L1168.8,2734.1L1117.1,2740.7Z" fill="#b3ff00"/>
<path d="M1168.8,2734.1L1219.8,2727.6L1269.4,2742.4L1218.4,2748.7Z" fill="#a3ff00"/>
<path d="M1269.4,2742.4L1319.6,2736.3L1369.9,2751.5L1319.6,2757.4Z" fill="#91ff00"/>
<path d="M1369.9,2751.5L1419.4,2745.7L1470.2,2761.4L1420.8,2767Z" fill="#7eff00"/>
<path d="M1470.2,2761.4L1519,2755.9L1570.5,2772.1L1521.8,2777.3Z" fill="#68ff00"/>
<path d="M1570.5,2772.1L1618.5,2766.9L1670.7,2783.5L1622.7,2788.5Z" fill="#50ff00"/>
<path d="M1670.7,2783.5L1717.9,2778.6L1770.7,2795.7L1723.5,2800.4Z" fill="#36ff00"/>
<path d="M1770.7,2795.7L1817.1,2791.2L1870.5,2808.7L1824.2,2813Z" fill="#1aff00"/>
<path d="M812.8,2721.5L866.7,2713.9L914.3,2727.1L860.3,2734.5Z" fill="#d2ff00"/>
<path d="M914.3,2727.1L967.5,2719.8L1015.7,2733.5L962.5,2740.5Z" fill="#caff00"/>
<path d="M1015.7,2733.5L1068.2,2726.6L1117.1,2740.7L1064.6,2747.4Z" fill="#c1ff00"/>
<path d="M1117.1,2740.7L1168.8,2734.1L1218.4,2748.7L1166.7,2755Z" fill="#b6ff00"/>
<path d="M1218.4,2748.7L1269.4,2742.4L1319.6,2757.4L1268.7,2763.4Z" fill="#a5ff00"/>
<path d="M1319.6,2757.4L1369.9,2751.5L1420.8,2767L1370.6,2772.7Z" fill="#92ff00"/>
<path d="M1420.8,2767L1470.2,2761.4L1521.8,2777.3L1472.4,2782.7Z" fill="#7dff00"/>
<path d="M1521.8,2777.3L1570.5,2772.1L1622.7,2788.5L1574.1,2793.5Z" fill="#67ff00"/>
<path d="M1622.7,2788.5L1670.7,2783.5L1723.5,2800.4L1675.6,2805.1Z" fill="#4eff00"/>
<path d="M1723.5,2800.4L1770.7,2795.7L1824.2,2813L1777.1,2817.4Z" fill="#34ff00"/>
<path d="M860.3,2734.5L914.3,2727.1L962.5,2740.5L908.4,2747.7Z" fill="#d6ff00"/>
<path d="M962.5,2740.5L1015.7,2733.5L1064.6,2747.4L1011.3,2754.2Z" fill="#cdff00"/>
<path d="M1064.6,2747.4L1117.1,2740.7L1166.7,2755L1114.2,2761.4Z" fill="#c3ff00"/>
<path d="M1166.7,2755L1218.4,2748.7L1268.7,2763.4L1216.9,2769.5Z" fill="#b8ff00"/>
<path d="M1268.7,2763.4L1319.6,2757.4L1370.6,2772.7L1319.6,2778.4Z" fill="#a6ff00"/>
<path d="M1370.6,2772.7L1420.8,2767L1472.4,2782.7L1422.2,2788.1Z" fill="#92ff00"/>
<path d="M1472.4,2782.7L1521.8,2777.3L1574.1,2793.5L1524.7,2798.6Z" fill="#7dff00"/>
<path d="M1574.1,2793.5L1622.7,2788.5L1675.6,2805.1L1627.1,2809.8Z" fill="#67ff00"/>
<path d="M1675.6,2805.1L1723.5,2800.4L1777.1,2817.4L1729.3,2821.9Z" fill="#4dff00"/>
<path d="M908.4,2747.7L962.5,2740.5L1011.3,2754.2L957.3,2761Z" fill="#d9ff00"/>
<path d="M1011.3,2754.2L1064.6,2747.4L1114.2,2761.4L1060.9,2768Z" fill="#cfff00"/>
<path d="M1114.2,2761.4L1166.7,2755L1216.9,2769.5L1164.4,2775.7Z" fill="#c5ff00"/>
<path d="M1216.9,2769.5L1268.7,2763.4L1319.6,2778.4L1267.9,2784.3Z" fill="#baff00"/>
<path d="M1319.6,2778.4L1370.6,2772.7L1422.2,2788.1L1371.3,2793.6Z" fill="#a7ff00"/>
<path d="M1422.2,2788.1L1472.4,2782.7L1524.7,2798.6L1474.6,2803.7Z" fill="#93ff00"/>
<path d="M1524.7,2798.6L1574.1,2793.5L1627.1,2809.8L1577.8,2814.7Z" fill="#7dff00"/>
<path d="M1627.1,2809.8L1675.6,2805.1L1729.3,2821.9L1680.8,2826.4Z" fill="#66ff00"/>
<path d="M957.3,2761L1011.3,2754.2L1060.9,2768L1006.8,2774.6Z" fill="#dcff00"/>
<path d="M1060.9,2768L1114.2,2761.4L1164.4,2775.7L1111.2,2782Z" fill="#d2ff00"/>
<path d="M1164.4,2775.7L1216.9,2769.5L1267.9,2784.3L1215.4,2790.2Z" fill="#c7ff00"/>
<path d="M1267.9,2784.3L1319.6,2778.4L1371.3,2793.6L1319.6,2799.2Z" fill="#bbff00"/>
<path d="M1371.3,2793.6L1422.2,2788.1L1474.6,2803.7L1423.7,2809Z" fill="#a9ff00"/>
<path d="M1474.6,2803.7L1524.7,2798.6L1577.8,2814.7L1527.7,2819.6Z" fill="#94ff00"/>
<path d="M1577.8,2814.7L1627.1,2809.8L1680.8,2826.4L1631.6,2831Z" fill="#7dff00"/>
<path d="M1006.8,2774.6L1060.9,2768L1111.2,2782L1057.1,2788.3Z" fill="#dfff00"/>
<path d="M1111.2,2782L1164.4,2775.7L1215.4,2790.2L1162.2,2796.2Z" fill="#d5ff00"/>
<path d="M1215.4,2790.2L1267.9,2784.3L1319.6,2799.2L1267.2,2804.9Z" fill="#c9ff00"/>
<path d="M1319.6,2799.2L1371.3,2793.6L1423.7,2809L1372.1,2814.3Z" fill="#bdff00"/>
<path d="M1423.7,2809L1474.6,2803.7L1527.7,2819.6L1476.9,2824.6Z" fill="#aaff00"/>
<path d="M1527.7,2819.6L1577.8,2814.7L1631.6,2831L1581.6,2835.7Z" fill="#94ff00"/>
<path d="M1057.1,2788.3L1111.2,2782L1162.2,2796.2L1108.1,2802.3Z" fill="#e2ff00"/>
<path d="M1162.2,2796.2L1215.4,2790.2L1267.2,2804.9L1213.9,2810.6Z" fill="#d7ff00"/>
<path d="M1267.2,2804.9L1319.6,2799.2L1372.1,2814.3L1319.6,2819.7Z" fill="#cbff00"/>
<path d="M1372.1,2814.3L1423.7,2809L1476.9,2824.6L1425.3,2829.7Z" fill="#beff00"/>
<path d="M1476.9,2824.6L1527.7,2819.6L1581.6,2835.7L1530.8,2840.5Z" fill="#acff00"/>
<path d="M1108.1,2802.3L1162.2,2796.2L1213.9,2810.6L1159.8,2816.5Z" fill="#e5ff00"/>
<path d="M1213.9,2810.6L1267.2,2804.9L1319.6,2819.7L1266.4,2825.2Z" fill="#daff00"/>
<path d="M1319.6,2819.7L1372.1,2814.3L1425.3,2829.7L1372.9,2834.8Z" fill="#cdff00"/>
<path d="M1425.3,2829.7L1476.9,2824.6L1530.8,2840.5L1479.2,2845.3Z" fill="#c0ff00"/>
<path d="M1159.8,2816.5L1213.9,2810.6L1266.4,2825.2L1212.3,2830.8Z" fill="#e8ff00"/>
<path d="M1266.4,2825.2L1319.6,2819.7L1372.9,2834.8L1319.6,2840.1Z" fill="#dcff00"/>
<path d="M1372.9,2834.8L1425.3,2829.7L1479.2,2845.3L1426.9,2850.2Z" fill="#cfff00"/>
<path d="M1212.3,2830.8L1266.4,2825.2L1319.6,2840.1L1265.6,2845.4Z" fill="#ebff00"/>
<path d="M1319.6,2840.1L1372.9,2834.8L1426.9,2850.2L1373.7,2855.1Z" fill="#dfff00"/>
<path d="M1265.6,2845.4L1319.6,2840.1L1373.7,2855.1L1319.6,2860.2Z" fill="#efff00"/>
</g>
<g fill="#000"><circle cx="404.7" cy="3302.9" r="9.2"/><circle cx="395.6" cy="3114.1" r="9.2"/><circle cx="386.6" cy="2925.3" r="9.2"/><circle cx="377.6" cy="2736.5" r="9.2"/><circle cx="368.6" cy="2547.7" r="9.2"/><circle cx="359.6" cy="2358.9" r="9.2"/><circle cx="418.7" cy="3597.3" r="9.2"/><circle cx="547.4" cy="3659.1" r="9.2"/><circle cx="676.1" cy="3720.9" r="9.2"/><circle cx="804.8" cy="3782.7" r="9.2"/><circle cx="933.6" cy="3844.6" r="9.2"/><circle cx="1062.3" cy="3906.4" r="9.2"/><circle cx="1191" cy="3968.2" r="9.2"/><circle cx="1319.7" cy="4030" r="9.2"/><circle cx="1544.9" cy="3921.8" r="9.2"/><circle cx="1770.1" cy="3813.7" r="9.2"/><circle cx="1995.2" cy="3705.5" r="9.2"/><circle cx="2220.4" cy="3597.3" r="9.2"/></g>
<g font-size="65.5"><text x="248.2" y="3286.6" textLength="124.4" lengthAdjust="spacingAndGlyphs">1000</text><text x="239.2" y="3097.8" textLength="124.4" lengthAdjust="spacingAndGlyphs">2000</text><text x="230.2" y="2909" textLength="124.4" lengthAdjust="spacingAndGlyphs">3000</text><text x="221.2" y="2720.2" textLength="124.4" lengthAdjust="spacingAndGlyphs">4000</text><text x="212.2" y="2531.4" textLength="124.4" lengthAdjust="spacingAndGlyphs">5000</text><text x="203.2" y="2342.6" textLength="124.4" lengthAdjust="spacingAndGlyphs">6000</text><text x="292.4" y="3655.8" textLength="93.3" lengthAdjust="spacingAndGlyphs">200</text><text x="421.1" y="3717.6" textLength="93.3" lengthAdjust="spacingAndGlyphs">175</text><text x="549.8" y="3779.4" textLength="93.3" lengthAdjust="spacingAndGlyphs">150</text><text x="678.5" y="3841.2" textLength="93.3" lengthAdjust="spacingAndGlyphs">125</text><text x="807.2" y="3903.1" textLength="93.3" lengthAdjust="spacingAndGlyphs">100</text><text x="967" y="3964.9" textLength="62.2" lengthAdjust="spacingAndGlyphs">75</text><text x="1095.8" y="4026.7" textLength="62.2" lengthAdjust="spacingAndGlyphs">50</text><text x="1224.5" y="4088.5" textLength="62.2" lengthAdjust="spacingAndGlyphs">25</text><text x="1352.7" y="4089" textLength="31.1" lengthAdjust="spacingAndGlyphs">5</text><text x="1577.9" y="3980.8" textLength="62.2" lengthAdjust="spacingAndGlyphs">10</text><text x="1803.1" y="3872.7" textLength="62.2" lengthAdjust="spacingAndGlyphs">15</text><text x="2028.2" y="3764.5" textLength="62.2" lengthAdjust="spacingAndGlyphs">20</text><text x="2253.4" y="3656.3" textLength="62.2" lengthAdjust="spacingAndGlyphs">25</text></g>
<g font-size="69">
<text x="132" y="3991" textLength="780" lengthAdjust="spacingAndGlyphs">Temperature [Celsius Degree]</text>
<text x="1975" y="3991" textLength="283" lengthAdjust="spacingAndGlyphs">Force [kN]</text>
<text transform="translate(82.9,3298) rotate(-90)" textLength="603" lengthAdjust="spacingAndGlyphs">Young Modulus [MPa]</text>
</g>
<rect x="321.8" y="2160.1" width="180.5" height="50.5" fill="url(#cb)" stroke="#000" stroke-width="3"/>
<text class="sans" x="110" y="2211.2" textLength="175" lengthAdjust="spacingAndGlyphs" fill="#5a5aff" stroke="#5a5aff">1535.81</text>
<text class="sans" x="534" y="2211.2" textLength="182" lengthAdjust="spacingAndGlyphs" fill="#ff4646" stroke="#ff4646">6213.66</text>
<text x="1176" y="4219.7" font-size="75" text-anchor="middle">(<tspan font-weight="bold">d</tspan>)</text>
</g>
</svg>
</body></html>
